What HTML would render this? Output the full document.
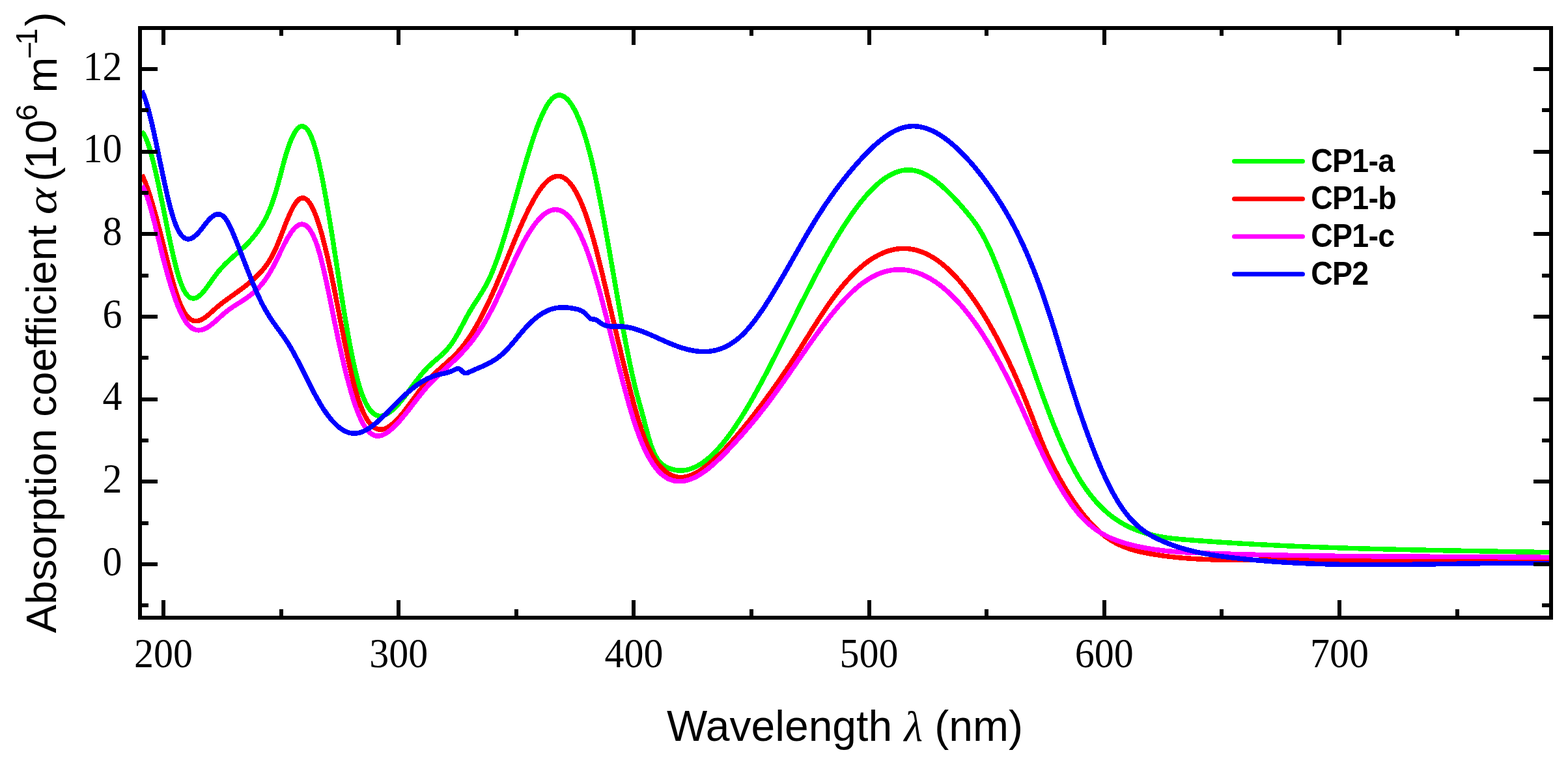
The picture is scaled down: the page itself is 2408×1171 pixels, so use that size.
<!DOCTYPE html>
<html><head><meta charset="utf-8"><title>Absorption coefficient</title>
<style>html,body{margin:0;padding:0;background:#fff;width:2408px;height:1171px;overflow:hidden}svg{display:block}</style>
</head><body>
<svg width="2408" height="1171" viewBox="0 0 2408 1171"><clipPath id="c"><rect x="218" y="46" width="2161" height="899"/></clipPath>
<g clip-path="url(#c)" fill="none" stroke-width="7.5" stroke-linejoin="round" stroke-linecap="butt" shape-rendering="crispEdges">
<path stroke="#00ff00" d="M217.8,202.0 L219.3,203.7 220.6,205.5 221.8,207.6 222.8,209.5 223.8,211.6 224.8,214.0 225.6,215.8 226.3,217.8 227.1,219.9 227.8,222.0 228.6,224.3 229.3,226.6 230.1,229.1 230.8,231.6 231.6,234.2 232.3,236.9 233.1,239.7 233.8,242.5 234.6,245.4 235.1,247.4 235.6,249.4 236.1,251.4 236.6,253.5 237.1,255.5 237.6,257.7 238.1,259.8 238.6,261.9 239.1,264.1 239.6,266.3 240.1,268.6 240.6,270.8 241.1,273.1 241.6,275.4 242.1,277.7 242.6,280.0 243.1,282.3 243.6,284.7 244.1,287.0 244.6,289.4 245.1,291.8 245.6,294.2 246.1,296.6 246.6,299.1 247.1,301.5 247.6,304.0 248.1,306.4 248.6,308.9 249.1,311.3 249.6,313.8 250.1,316.3 250.6,318.8 251.1,321.2 251.6,323.7 252.1,326.2 252.6,328.7 253.1,331.2 253.6,333.7 254.1,336.1 254.6,338.6 255.1,341.1 255.6,343.5 256.1,346.0 256.6,348.5 257.1,350.9 257.6,353.3 258.1,355.8 258.6,358.2 259.1,360.6 259.6,363.0 260.1,365.4 260.6,367.7 261.1,370.1 261.6,372.4 262.1,374.7 262.6,377.0 263.1,379.3 263.6,381.6 264.1,383.9 264.6,386.1 265.1,388.3 265.6,390.5 266.1,392.6 266.6,394.8 267.1,396.9 267.6,399.0 268.1,401.0 268.6,403.0 269.1,405.1 269.6,407.0 270.1,409.0 270.8,411.8 271.6,414.6 272.3,417.3 273.1,420.0 273.8,422.5 274.6,425.0 275.3,427.4 276.1,429.6 276.8,431.8 277.6,433.9 278.3,436.0 279.1,437.9 280.1,440.2 281.1,442.5 282.1,444.5 283.1,446.4 284.3,448.5 285.6,450.4 286.8,452.1 288.3,453.8 289.8,455.2 291.6,456.5 293.6,457.4 295.6,457.9 297.6,458.0 299.6,457.6 301.6,456.9 303.6,455.8 305.3,454.6 307.1,453.2 308.6,451.8 310.1,450.3 311.6,448.6 313.1,446.9 314.6,445.0 315.8,443.5 317.1,441.8 318.3,440.1 319.6,438.4 320.8,436.7 322.1,434.9 323.3,433.1 324.6,431.4 325.8,429.6 327.1,427.8 328.3,426.1 329.6,424.4 330.8,422.7 332.1,421.1 333.3,419.5 334.8,417.6 336.3,415.8 337.8,414.0 339.3,412.3 340.8,410.7 342.3,409.1 343.8,407.5 345.3,406.0 346.8,404.5 348.3,403.0 349.8,401.6 351.3,400.2 352.8,398.8 354.3,397.4 355.8,396.0 357.3,394.7 358.8,393.4 360.3,392.0 362.1,390.5 363.8,389.0 365.3,387.6 366.8,386.3 368.3,385.0 369.8,383.6 371.3,382.3 372.8,380.9 374.3,379.5 375.8,378.0 377.3,376.6 378.8,375.1 380.3,373.6 381.8,372.0 383.3,370.4 384.8,368.8 386.3,367.1 387.8,365.3 389.3,363.5 390.8,361.7 392.1,360.1 393.3,358.5 394.6,356.8 395.8,355.1 397.1,353.3 398.3,351.5 399.6,349.7 400.8,347.7 402.1,345.7 403.3,343.6 404.6,341.5 405.6,339.7 406.6,337.8 407.6,335.9 408.6,334.0 409.6,331.9 410.6,329.8 411.6,327.6 412.6,325.4 413.6,323.0 414.6,320.6 415.3,318.7 416.1,316.8 416.8,314.8 417.6,312.8 418.3,310.7 419.1,308.6 419.8,306.4 420.6,304.2 421.3,301.9 422.1,299.5 422.8,297.1 423.6,294.6 424.3,292.0 425.1,289.4 425.8,286.7 426.6,284.0 427.3,281.3 428.1,278.5 428.8,275.6 429.6,272.8 430.3,269.9 431.1,267.0 431.8,264.1 432.6,261.3 433.3,258.4 434.1,255.6 434.8,252.8 435.6,250.0 436.3,247.2 437.1,244.5 437.8,241.9 438.6,239.3 439.3,236.8 440.1,234.3 440.8,231.9 441.6,229.6 442.3,227.3 443.1,225.1 443.8,223.0 444.6,221.0 445.3,219.0 446.1,217.0 447.1,214.6 448.1,212.3 449.1,210.1 450.1,208.0 451.1,206.1 452.1,204.3 453.3,202.2 454.6,200.3 455.8,198.7 457.3,197.0 458.8,195.7 460.6,194.6 462.6,193.8 464.6,193.7 466.6,194.2 468.3,195.2 470.1,196.6 471.6,198.3 472.8,200.0 474.1,201.9 475.1,203.7 476.1,205.6 477.1,207.7 478.1,210.0 479.1,212.4 479.8,214.4 480.6,216.5 481.3,218.7 482.1,220.9 482.8,223.3 483.6,225.8 484.3,228.4 485.1,231.1 485.8,233.9 486.6,236.8 487.1,238.7 487.6,240.7 488.1,242.8 488.6,244.9 489.1,247.0 489.6,249.1 490.1,251.3 490.6,253.6 491.1,255.9 491.6,258.2 492.1,260.5 492.6,262.9 493.1,265.3 493.6,267.7 494.1,270.2 494.6,272.7 495.1,275.2 495.6,277.8 496.1,280.3 496.6,283.0 497.1,285.6 497.6,288.3 498.1,291.0 498.6,293.7 499.1,296.4 499.6,299.2 500.1,302.0 500.6,304.8 501.1,307.6 501.6,310.5 502.1,313.4 502.6,316.3 503.1,319.2 503.6,322.1 504.1,325.1 504.6,328.1 505.1,331.1 505.6,334.1 506.1,337.1 506.6,340.1 507.1,343.2 507.6,346.2 508.1,349.3 508.6,352.4 509.1,355.5 509.6,358.6 510.1,361.7 510.6,364.9 511.1,368.0 511.6,371.2 512.0,374.3 512.5,377.5 513.0,380.6 513.5,383.8 514.0,387.0 514.5,390.2 515.0,393.4 515.5,396.6 516.0,399.8 516.5,403.0 517.0,406.2 517.5,409.3 518.0,412.5 518.5,415.7 519.0,418.9 519.5,422.1 520.0,425.3 520.5,428.5 521.0,431.7 521.5,434.9 522.0,438.0 522.5,441.2 523.0,444.3 523.5,447.5 524.0,450.6 524.5,453.8 525.0,456.9 525.5,460.0 526.0,463.1 526.5,466.2 527.0,469.3 527.5,472.3 528.0,475.4 528.5,478.4 529.0,481.4 529.5,484.4 530.0,487.4 530.5,490.4 531.0,493.4 531.5,496.3 532.0,499.2 532.5,502.1 533.0,505.0 533.5,507.9 534.0,510.7 534.5,513.5 535.0,516.3 535.5,519.1 536.0,521.8 536.5,524.5 537.0,527.2 537.5,529.9 538.0,532.5 538.5,535.1 539.0,537.7 539.5,540.3 540.0,542.8 540.5,545.3 541.0,547.8 541.5,550.2 542.0,552.6 542.5,555.0 543.0,557.3 543.5,559.6 544.0,561.9 544.5,564.1 545.0,566.3 545.5,568.5 546.0,570.6 546.5,572.7 547.0,574.7 547.5,576.7 548.0,578.7 548.8,581.6 549.5,584.4 550.3,587.1 551.0,589.7 551.8,592.2 552.5,594.7 553.3,597.1 554.0,599.3 554.8,601.6 555.5,603.7 556.3,605.7 557.0,607.7 557.8,609.6 558.8,612.0 559.8,614.3 560.8,616.5 561.8,618.6 562.8,620.5 563.8,622.3 565.0,624.4 566.3,626.4 567.5,628.1 568.8,629.7 570.3,631.5 571.8,633.0 573.5,634.5 575.3,635.8 577.0,636.7 579.0,637.6 581.0,638.1 583.0,638.4 585.0,638.4 587.0,638.1 589.0,637.6 591.0,636.9 593.0,636.0 595.0,634.9 596.8,633.8 598.5,632.6 600.3,631.3 602.0,629.8 603.8,628.3 605.3,626.9 606.8,625.4 608.3,623.9 609.8,622.3 611.3,620.7 612.8,619.0 614.3,617.3 615.8,615.5 617.3,613.7 618.8,611.8 620.0,610.2 621.3,608.6 622.5,607.0 623.8,605.4 625.0,603.7 626.3,602.1 627.5,600.4 628.8,598.7 630.0,597.1 631.3,595.4 632.5,593.7 633.8,592.0 635.0,590.3 636.3,588.7 637.5,587.0 638.8,585.3 640.0,583.7 641.3,582.1 642.5,580.4 643.8,578.8 645.0,577.3 646.5,575.4 648.0,573.6 649.5,571.8 651.0,570.1 652.5,568.4 654.0,566.8 655.5,565.2 657.0,563.7 658.5,562.2 660.0,560.8 661.5,559.4 663.0,558.0 664.5,556.7 666.3,555.2 668.0,553.7 669.8,552.2 671.5,550.7 673.3,549.1 675.0,547.6 676.5,546.3 678.0,544.9 679.5,543.5 681.0,542.0 682.5,540.5 684.0,539.0 685.5,537.4 687.0,535.7 688.5,533.9 690.0,532.1 691.3,530.5 692.5,528.8 693.8,527.1 695.0,525.3 696.3,523.4 697.5,521.4 698.8,519.4 700.0,517.3 701.3,515.1 702.3,513.4 703.3,511.6 704.3,509.8 705.3,507.9 706.3,506.0 707.3,504.2 708.3,502.3 709.3,500.4 710.3,498.5 711.3,496.6 712.3,494.6 713.3,492.8 714.3,490.9 715.3,489.0 716.3,487.1 717.3,485.3 718.3,483.5 719.3,481.7 720.3,480.0 721.5,477.8 722.8,475.8 724.0,473.7 725.3,471.7 726.5,469.7 727.8,467.8 729.0,465.8 730.3,463.9 731.5,462.0 732.8,460.0 734.0,458.1 735.3,456.2 736.5,454.2 737.8,452.2 739.0,450.2 740.3,448.2 741.5,446.1 742.8,444.0 743.8,442.3 744.8,440.5 745.8,438.7 746.8,436.8 747.8,434.9 748.8,433.0 749.8,431.0 750.8,428.9 751.8,426.8 752.8,424.7 753.8,422.4 754.8,420.1 755.8,417.8 756.8,415.4 757.5,413.5 758.3,411.6 759.0,409.7 759.8,407.7 760.5,405.8 761.3,403.7 762.0,401.7 762.8,399.6 763.5,397.5 764.3,395.4 765.0,393.2 765.8,391.1 766.5,388.8 767.3,386.6 768.0,384.4 768.8,382.1 769.5,379.8 770.3,377.4 771.0,375.1 771.8,372.7 772.5,370.3 773.3,367.9 774.0,365.5 774.8,363.0 775.5,360.6 776.3,358.1 777.0,355.6 777.8,353.1 778.5,350.5 779.3,348.0 780.0,345.4 780.8,342.9 781.5,340.3 782.3,337.7 783.0,335.1 783.8,332.5 784.5,329.8 785.3,327.2 786.0,324.6 786.8,321.9 787.5,319.3 788.3,316.6 789.0,313.9 789.8,311.3 790.5,308.6 791.3,305.9 792.0,303.3 792.8,300.6 793.5,297.9 794.3,295.2 795.0,292.5 795.8,289.9 796.5,287.2 797.3,284.5 798.0,281.9 798.8,279.2 799.5,276.6 800.3,273.9 801.0,271.3 801.8,268.6 802.5,266.0 803.3,263.4 804.0,260.8 804.8,258.2 805.5,255.6 806.3,253.0 807.0,250.5 807.8,247.9 808.5,245.4 809.3,242.9 810.0,240.4 810.8,237.9 811.5,235.4 812.3,233.0 813.0,230.6 813.8,228.2 814.5,225.8 815.3,223.4 816.0,221.1 816.8,218.7 817.5,216.4 818.3,214.1 819.0,211.9 819.8,209.7 820.5,207.5 821.3,205.3 822.0,203.1 822.8,201.0 823.5,198.9 824.3,196.9 825.0,194.8 825.8,192.9 826.5,190.9 827.3,189.0 828.0,187.0 828.8,185.2 829.8,182.7 830.8,180.4 831.8,178.1 832.8,175.8 833.8,173.7 834.8,171.6 835.8,169.5 836.8,167.6 837.8,165.7 838.8,163.9 840.0,161.8 841.3,159.8 842.5,157.9 843.8,156.2 845.0,154.6 846.5,152.8 848.0,151.3 849.5,149.9 851.3,148.6 853.0,147.6 855.0,146.7 857.0,146.2 859.0,146.1 861.0,146.2 863.0,146.8 865.0,147.6 866.8,148.6 868.5,149.9 870.3,151.4 871.8,152.9 873.3,154.6 874.8,156.4 876.0,158.1 877.3,159.9 878.5,161.8 879.8,163.9 881.0,166.1 882.0,167.9 883.0,169.8 884.0,171.8 885.0,173.8 886.0,175.9 887.0,178.1 888.0,180.4 889.0,182.8 890.0,185.2 890.8,187.1 891.5,189.0 892.3,191.0 893.0,193.0 893.8,195.1 894.5,197.2 895.3,199.4 896.0,201.6 896.8,203.8 897.5,206.1 898.3,208.5 899.0,210.9 899.8,213.3 900.5,215.9 901.3,218.4 902.0,221.0 902.8,223.7 903.5,226.4 904.3,229.2 905.0,232.0 905.8,234.8 906.3,236.8 906.8,238.7 907.3,240.7 907.8,242.8 908.3,244.8 908.8,246.9 909.3,248.9 909.8,251.1 910.3,253.2 910.8,255.4 911.3,257.5 911.8,259.7 912.3,262.0 912.8,264.2 913.3,266.5 913.8,268.8 914.3,271.1 914.8,273.4 915.3,275.8 915.8,278.1 916.3,280.5 916.8,282.9 917.3,285.4 917.8,287.8 918.3,290.3 918.8,292.8 919.3,295.3 919.8,297.8 920.3,300.3 920.8,302.9 921.3,305.4 921.8,308.0 922.3,310.6 922.8,313.2 923.3,315.8 923.8,318.5 924.3,321.1 924.8,323.8 925.3,326.5 925.8,329.1 926.3,331.8 926.8,334.5 927.3,337.3 927.8,340.0 928.3,342.7 928.8,345.5 929.3,348.3 929.8,351.0 930.3,353.8 930.8,356.6 931.3,359.4 931.8,362.2 932.3,365.0 932.8,367.8 933.3,370.7 933.8,373.5 934.3,376.3 934.8,379.2 935.3,382.0 935.8,384.9 936.3,387.7 936.8,390.6 937.3,393.4 937.8,396.3 938.3,399.2 938.8,402.1 939.3,404.9 939.8,407.8 940.3,410.7 940.8,413.6 941.3,416.4 941.8,419.3 942.3,422.2 942.8,425.1 943.3,428.0 943.8,430.8 944.3,433.7 944.8,436.6 945.3,439.5 945.8,442.3 946.3,445.2 946.8,448.1 947.3,450.9 947.8,453.8 948.3,456.6 948.8,459.5 949.3,462.3 949.8,465.2 950.3,468.0 950.8,470.8 951.3,473.6 951.8,476.4 952.3,479.2 952.8,482.0 953.3,484.8 953.8,487.6 954.3,490.3 954.8,493.1 955.3,495.8 955.8,498.6 956.3,501.3 956.8,504.0 957.3,506.7 957.8,509.4 958.3,512.1 958.8,514.8 959.3,517.4 959.8,520.1 960.3,522.7 960.8,525.3 961.3,527.9 961.8,530.5 962.3,533.1 962.8,535.6 963.3,538.2 963.8,540.7 964.3,543.2 964.8,545.7 965.3,548.2 965.8,550.6 966.3,553.1 966.8,555.5 967.3,557.9 967.8,560.3 968.3,562.6 968.8,565.0 969.3,567.3 969.8,569.6 970.3,571.9 970.8,574.2 971.3,576.4 971.8,578.6 972.3,580.8 972.8,583.0 973.3,585.1 973.8,587.3 974.3,589.4 974.8,591.4 975.3,593.5 975.8,595.5 976.3,597.5 976.8,599.5 977.3,601.4 978.0,604.3 978.8,607.2 979.5,610.0 980.3,612.8 981.0,615.5 981.8,618.2 982.5,621.0 983.3,623.7 984.0,626.3 984.8,629.0 985.5,631.7 986.3,634.5 987.0,637.2 987.8,639.9 988.5,642.7 989.3,645.5 990.0,648.4 990.8,651.2 991.5,654.1 992.3,657.0 993.0,659.8 993.8,662.7 994.5,665.5 995.3,668.3 996.0,671.0 996.8,673.6 997.5,676.2 998.3,678.6 999.0,681.0 999.8,683.2 1000.5,685.4 1001.3,687.5 1002.0,689.4 1002.8,691.3 1003.8,693.6 1004.8,695.8 1005.8,697.9 1006.8,699.8 1007.8,701.6 1009.0,703.6 1010.3,705.5 1011.5,707.1 1013.0,708.9 1014.5,710.5 1016.0,711.9 1017.8,713.3 1019.5,714.6 1021.3,715.6 1023.3,716.7 1025.3,717.7 1027.3,718.5 1029.3,719.3 1031.3,720.0 1033.3,720.6 1035.3,721.0 1037.3,721.4 1039.3,721.7 1041.3,722.0 1043.3,722.1 1045.3,722.1 1047.3,722.1 1049.3,721.9 1051.3,721.7 1053.3,721.4 1055.3,721.0 1057.3,720.5 1059.3,719.9 1061.3,719.3 1063.3,718.6 1065.3,717.8 1067.3,716.9 1069.3,715.9 1071.3,714.9 1073.0,713.9 1074.8,712.8 1076.5,711.7 1078.3,710.6 1080.0,709.4 1081.8,708.1 1083.5,706.8 1085.3,705.4 1087.0,704.0 1088.8,702.5 1090.5,701.0 1092.0,699.6 1093.5,698.2 1095.0,696.8 1096.5,695.3 1098.0,693.8 1099.5,692.3 1101.0,690.7 1102.5,689.1 1104.0,687.4 1105.5,685.7 1107.0,684.0 1108.5,682.3 1110.0,680.5 1111.5,678.6 1113.0,676.8 1114.3,675.2 1115.5,673.6 1116.8,672.0 1118.0,670.3 1119.3,668.7 1120.5,667.0 1121.8,665.3 1123.0,663.5 1124.3,661.8 1125.5,660.0 1126.8,658.2 1128.0,656.4 1129.3,654.6 1130.5,652.7 1131.8,650.8 1133.0,648.9 1134.3,647.0 1135.5,645.1 1136.8,643.1 1138.0,641.2 1139.3,639.2 1140.5,637.2 1141.8,635.1 1143.0,633.1 1144.3,631.0 1145.5,629.0 1146.8,626.9 1148.0,624.8 1149.3,622.7 1150.5,620.5 1151.8,618.4 1153.0,616.2 1154.0,614.5 1155.0,612.7 1156.0,611.0 1157.0,609.2 1158.0,607.4 1159.0,605.6 1160.0,603.8 1161.0,602.0 1162.0,600.2 1163.0,598.4 1164.0,596.6 1165.0,594.8 1166.0,592.9 1167.0,591.1 1168.0,589.2 1169.0,587.4 1170.0,585.5 1171.0,583.6 1172.0,581.7 1173.0,579.9 1174.0,578.0 1175.0,576.1 1176.0,574.2 1177.0,572.3 1178.0,570.3 1179.0,568.4 1180.0,566.5 1181.0,564.6 1182.0,562.6 1183.0,560.7 1184.0,558.7 1185.0,556.8 1186.0,554.8 1187.0,552.9 1188.0,550.9 1189.0,548.9 1190.0,547.0 1191.0,545.0 1192.0,543.0 1193.0,541.0 1194.0,539.1 1195.0,537.1 1196.0,535.1 1197.0,533.1 1198.0,531.1 1199.0,529.1 1200.0,527.1 1201.0,525.1 1202.0,523.1 1203.0,521.1 1204.0,519.1 1205.0,517.1 1206.0,515.1 1207.0,513.1 1208.0,511.0 1209.0,509.0 1210.0,507.0 1211.0,505.0 1212.0,503.0 1213.0,501.0 1214.0,499.0 1215.0,497.0 1216.0,494.9 1217.0,492.9 1218.0,490.9 1219.0,488.9 1220.0,486.9 1221.0,484.9 1222.0,482.9 1223.0,480.9 1224.0,478.8 1225.0,476.8 1226.0,474.8 1227.0,472.8 1228.0,470.8 1229.0,468.8 1230.0,466.8 1231.0,464.8 1232.0,462.9 1233.0,460.9 1234.0,458.9 1235.0,456.9 1236.0,454.9 1237.0,452.9 1238.0,451.0 1239.0,449.0 1240.0,447.0 1241.0,445.1 1242.0,443.1 1243.0,441.2 1244.0,439.2 1245.0,437.3 1246.0,435.3 1247.0,433.4 1248.0,431.5 1249.0,429.5 1250.0,427.6 1251.0,425.7 1252.0,423.8 1253.0,421.9 1254.0,420.0 1255.0,418.1 1256.0,416.2 1257.0,414.3 1258.0,412.5 1259.0,410.6 1260.0,408.7 1261.0,406.9 1262.0,405.0 1263.0,403.2 1264.0,401.4 1265.0,399.5 1266.0,397.7 1267.0,395.9 1268.0,394.1 1269.0,392.3 1270.0,390.5 1271.0,388.7 1272.0,386.9 1273.0,385.1 1274.0,383.4 1275.0,381.6 1276.0,379.9 1277.0,378.1 1278.3,376.0 1279.5,373.8 1280.8,371.7 1282.0,369.6 1283.3,367.5 1284.5,365.4 1285.8,363.3 1287.0,361.2 1288.3,359.2 1289.5,357.1 1290.8,355.1 1292.0,353.1 1293.3,351.1 1294.5,349.1 1295.8,347.2 1297.0,345.2 1298.3,343.3 1299.5,341.4 1300.8,339.5 1302.0,337.6 1303.3,335.8 1304.5,333.9 1305.8,332.1 1307.0,330.3 1308.3,328.5 1309.5,326.7 1310.8,325.0 1312.0,323.2 1313.3,321.5 1314.5,319.8 1315.8,318.2 1317.0,316.5 1318.3,314.9 1319.5,313.2 1320.8,311.6 1322.0,310.1 1323.5,308.2 1325.0,306.4 1326.5,304.6 1328.0,302.8 1329.5,301.0 1331.0,299.3 1332.5,297.7 1334.0,296.0 1335.5,294.4 1337.0,292.8 1338.5,291.3 1340.0,289.7 1341.5,288.3 1343.0,286.8 1344.5,285.4 1346.0,284.0 1347.5,282.7 1349.3,281.2 1351.0,279.7 1352.8,278.3 1354.5,276.9 1356.3,275.6 1358.0,274.3 1359.8,273.1 1361.5,271.9 1363.3,270.8 1365.0,269.8 1366.8,268.8 1368.8,267.7 1370.8,266.7 1372.8,265.8 1374.8,264.9 1376.8,264.2 1378.8,263.5 1380.8,262.9 1382.8,262.3 1384.8,261.8 1386.8,261.5 1388.8,261.2 1390.8,260.9 1392.8,260.8 1394.8,260.8 1396.8,260.8 1398.8,260.9 1400.8,261.1 1402.8,261.4 1404.8,261.8 1406.8,262.2 1408.8,262.8 1410.8,263.4 1412.8,264.0 1414.8,264.8 1416.8,265.6 1418.8,266.5 1420.8,267.5 1422.8,268.6 1424.8,269.7 1426.5,270.7 1428.3,271.8 1430.0,272.9 1431.8,274.1 1433.5,275.3 1435.3,276.5 1437.0,277.8 1438.8,279.2 1440.5,280.6 1442.3,282.0 1444.0,283.4 1445.8,284.9 1447.5,286.5 1449.0,287.8 1450.5,289.2 1452.0,290.6 1453.5,292.0 1455.0,293.5 1456.5,294.9 1458.0,296.4 1459.5,297.9 1461.0,299.5 1462.5,301.0 1464.0,302.6 1465.5,304.2 1467.0,305.8 1468.5,307.4 1470.0,309.0 1471.5,310.7 1473.0,312.4 1474.5,314.1 1476.0,315.8 1477.5,317.5 1479.0,319.2 1480.5,321.0 1482.0,322.7 1483.5,324.5 1485.0,326.3 1486.5,328.1 1488.0,329.9 1489.5,331.8 1490.8,333.3 1492.0,334.9 1493.3,336.6 1494.5,338.2 1495.8,339.9 1497.0,341.7 1498.3,343.4 1499.5,345.2 1500.8,347.1 1502.0,349.0 1503.3,350.9 1504.5,352.9 1505.8,355.0 1507.0,357.1 1508.3,359.3 1509.3,361.1 1510.3,362.9 1511.3,364.7 1512.3,366.6 1513.3,368.6 1514.3,370.6 1515.3,372.6 1516.3,374.7 1517.3,376.8 1518.3,378.9 1519.3,381.1 1520.3,383.3 1521.3,385.5 1522.3,387.8 1523.3,390.1 1524.3,392.4 1525.3,394.8 1526.3,397.2 1527.3,399.6 1528.3,402.0 1529.3,404.5 1530.0,406.4 1530.8,408.3 1531.5,410.1 1532.3,412.0 1533.0,414.0 1533.8,415.9 1534.5,417.8 1535.3,419.8 1536.0,421.7 1536.8,423.7 1537.5,425.7 1538.3,427.6 1539.0,429.6 1539.8,431.6 1540.5,433.6 1541.3,435.7 1542.0,437.7 1542.8,439.7 1543.5,441.8 1544.3,443.8 1545.0,445.9 1545.8,447.9 1546.5,450.0 1547.3,452.1 1548.0,454.2 1548.8,456.2 1549.5,458.3 1550.3,460.4 1551.0,462.6 1551.8,464.7 1552.5,466.8 1553.3,468.9 1554.0,471.0 1554.8,473.2 1555.5,475.3 1556.3,477.5 1557.0,479.6 1557.8,481.8 1558.5,483.9 1559.3,486.1 1560.0,488.2 1560.8,490.4 1561.5,492.6 1562.3,494.8 1563.0,496.9 1563.8,499.1 1564.5,501.3 1565.3,503.5 1566.0,505.7 1566.8,507.8 1567.5,510.0 1568.3,512.2 1569.0,514.4 1569.8,516.6 1570.5,518.8 1571.3,521.0 1572.0,523.2 1572.8,525.4 1573.5,527.6 1574.3,529.8 1575.0,532.0 1575.8,534.2 1576.5,536.4 1577.3,538.6 1578.0,540.8 1578.8,542.9 1579.5,545.1 1580.3,547.3 1581.0,549.5 1581.8,551.7 1582.5,553.9 1583.3,556.1 1584.0,558.2 1584.8,560.4 1585.5,562.6 1586.3,564.8 1587.0,566.9 1587.8,569.1 1588.5,571.2 1589.3,573.4 1590.0,575.5 1590.8,577.7 1591.5,579.8 1592.3,582.0 1593.0,584.1 1593.8,586.2 1594.5,588.4 1595.3,590.5 1596.0,592.6 1596.8,594.7 1597.5,596.8 1598.3,598.9 1599.0,601.0 1599.8,603.1 1600.5,605.1 1601.3,607.2 1602.0,609.3 1602.8,611.3 1603.5,613.4 1604.3,615.4 1605.0,617.4 1605.8,619.5 1606.5,621.5 1607.3,623.5 1608.0,625.5 1608.8,627.5 1609.5,629.5 1610.3,631.5 1611.0,633.5 1611.8,635.4 1612.5,637.4 1613.3,639.3 1614.0,641.3 1614.8,643.2 1615.5,645.1 1616.3,647.0 1617.0,649.0 1617.8,650.8 1618.5,652.7 1619.3,654.6 1620.0,656.5 1620.8,658.3 1621.8,660.8 1622.8,663.2 1623.8,665.7 1624.8,668.1 1625.8,670.4 1626.8,672.8 1627.8,675.2 1628.8,677.5 1629.8,679.8 1630.8,682.1 1631.8,684.3 1632.8,686.6 1633.8,688.8 1634.8,691.0 1635.8,693.2 1636.8,695.3 1637.8,697.5 1638.8,699.6 1639.8,701.7 1640.8,703.7 1641.8,705.8 1642.8,707.8 1643.8,709.8 1644.8,711.7 1645.8,713.7 1646.8,715.6 1647.8,717.5 1648.8,719.3 1649.8,721.2 1650.8,723.0 1651.8,724.8 1652.8,726.5 1653.8,728.3 1655.0,730.4 1656.3,732.5 1657.5,734.6 1658.8,736.7 1660.0,738.7 1661.3,740.6 1662.5,742.6 1663.8,744.5 1665.0,746.3 1666.3,748.2 1667.5,750.0 1668.8,751.7 1670.0,753.5 1671.3,755.2 1672.5,756.9 1673.8,758.5 1675.0,760.1 1676.3,761.7 1677.8,763.5 1679.3,765.4 1680.8,767.1 1682.3,768.9 1683.8,770.6 1685.3,772.2 1686.8,773.8 1688.3,775.4 1689.8,777.0 1691.3,778.5 1692.8,779.9 1694.3,781.4 1695.8,782.8 1697.3,784.1 1698.8,785.4 1700.5,787.0 1702.3,788.4 1704.0,789.8 1705.8,791.2 1707.5,792.6 1709.3,793.9 1711.0,795.1 1712.8,796.4 1714.5,797.5 1716.3,798.7 1718.0,799.8 1719.8,800.9 1721.5,802.0 1723.3,803.0 1725.0,804.0 1727.0,805.1 1729.0,806.1 1731.0,807.2 1733.0,808.2 1735.0,809.1 1737.0,810.1 1739.0,810.9 1741.0,811.8 1743.0,812.6 1745.0,813.4 1747.0,814.2 1749.0,815.0 1751.0,815.7 1753.0,816.4 1755.0,817.0 1757.0,817.7 1759.0,818.3 1761.0,818.8 1763.0,819.4 1765.0,819.9 1767.0,820.5 1769.0,820.9 1771.0,821.4 1773.0,821.9 1775.0,822.3 1777.0,822.7 1779.0,823.1 1781.0,823.5 1783.0,823.8 1785.0,824.2 1787.0,824.5 1789.0,824.8 1791.0,825.1 1793.0,825.4 1795.0,825.6 1797.0,825.9 1799.0,826.1 1801.0,826.4 1803.0,826.6 1805.0,826.8 1807.0,827.0 1809.0,827.2 1811.0,827.4 1813.0,827.6 1815.0,827.8 1817.0,827.9 1819.0,828.1 1821.0,828.3 1823.0,828.4 1825.0,828.6 1827.0,828.7 1829.0,828.9 1831.0,829.0 1833.0,829.2 1835.0,829.3 1837.0,829.5 1839.0,829.6 1841.0,829.8 1843.0,829.9 1845.0,830.1 1847.0,830.2 1849.0,830.4 1851.0,830.5 1853.0,830.7 1855.0,830.8 1857.0,830.9 1859.0,831.1 1861.0,831.2 1863.0,831.4 1865.0,831.5 1867.0,831.6 1869.0,831.8 1871.0,831.9 1873.0,832.0 1875.0,832.2 1877.0,832.3 1879.0,832.4 1881.0,832.6 1883.0,832.7 1885.0,832.8 1887.0,832.9 1889.0,833.1 1891.0,833.2 1893.0,833.3 1895.0,833.4 1897.0,833.6 1899.0,833.7 1901.0,833.8 1903.0,833.9 1905.0,834.0 1907.0,834.2 1909.0,834.3 1911.0,834.4 1913.0,834.5 1915.0,834.6 1917.0,834.7 1919.0,834.8 1921.0,835.0 1923.0,835.1 1925.0,835.2 1927.0,835.3 1929.0,835.4 1931.0,835.5 1933.0,835.6 1935.0,835.7 1937.0,835.8 1939.0,835.9 1941.0,836.0 1943.0,836.1 1945.0,836.2 1947.0,836.3 1949.0,836.4 1951.0,836.5 1953.0,836.6 1955.0,836.7 1957.0,836.8 1959.0,836.9 1961.0,837.0 1963.0,837.1 1965.0,837.2 1967.0,837.3 1969.0,837.4 1971.0,837.5 1973.0,837.6 1975.0,837.7 1977.0,837.8 1979.0,837.8 1981.0,837.9 1983.0,838.0 1985.0,838.1 1987.0,838.2 1989.0,838.3 1991.0,838.4 1993.0,838.5 1995.0,838.5 1997.0,838.6 1999.0,838.7 2001.0,838.8 2003.0,838.9 2005.0,838.9 2007.0,839.0 2009.0,839.1 2011.0,839.2 2013.0,839.3 2015.0,839.3 2017.0,839.4 2019.0,839.5 2021.0,839.6 2023.0,839.6 2025.0,839.7 2027.0,839.8 2029.0,839.9 2031.0,839.9 2033.0,840.0 2035.0,840.1 2037.0,840.2 2039.0,840.2 2041.0,840.3 2043.0,840.4 2045.0,840.4 2047.0,840.5 2049.1,840.6 2051.1,840.6 2053.1,840.7 2055.1,840.8 2057.1,840.8 2059.1,840.9 2061.1,841.0 2063.1,841.0 2065.1,841.1 2067.1,841.2 2069.1,841.2 2071.1,841.3 2073.1,841.3 2075.1,841.4 2077.1,841.5 2079.1,841.5 2081.1,841.6 2083.1,841.6 2085.1,841.7 2087.1,841.8 2089.1,841.8 2091.1,841.9 2093.1,841.9 2095.1,842.0 2097.1,842.0 2099.1,842.1 2101.1,842.1 2103.1,842.2 2105.1,842.3 2107.1,842.3 2109.1,842.4 2111.1,842.4 2113.1,842.5 2115.1,842.5 2117.1,842.6 2119.1,842.6 2121.1,842.7 2123.1,842.7 2125.1,842.8 2127.1,842.8 2129.1,842.9 2131.1,842.9 2133.1,843.0 2135.1,843.0 2137.1,843.1 2139.1,843.1 2141.1,843.2 2143.1,843.2 2145.1,843.3 2147.1,843.3 2149.1,843.4 2151.1,843.4 2153.1,843.4 2155.1,843.5 2157.1,843.5 2159.1,843.6 2161.1,843.6 2163.1,843.7 2165.1,843.7 2167.1,843.8 2169.1,843.8 2171.1,843.8 2173.1,843.9 2175.1,843.9 2177.1,844.0 2179.1,844.0 2181.1,844.1 2183.1,844.1 2185.1,844.1 2187.1,844.2 2189.1,844.2 2191.1,844.3 2193.1,844.3 2195.1,844.3 2197.1,844.4 2199.1,844.4 2201.1,844.5 2203.1,844.5 2205.1,844.5 2207.1,844.6 2209.1,844.6 2211.1,844.7 2213.1,844.7 2215.1,844.7 2217.1,844.8 2219.1,844.8 2221.1,844.8 2223.1,844.9 2225.1,844.9 2227.1,845.0 2229.1,845.0 2231.1,845.0 2233.1,845.1 2235.1,845.1 2237.1,845.1 2239.1,845.2 2241.1,845.2 2243.1,845.2 2245.1,845.3 2247.1,845.3 2249.1,845.4 2251.1,845.4 2253.1,845.4 2255.1,845.5 2257.1,845.5 2259.1,845.5 2261.1,845.6 2263.1,845.6 2265.1,845.6 2267.1,845.7 2269.1,845.7 2271.1,845.7 2273.1,845.8 2275.1,845.8 2277.1,845.8 2279.1,845.9 2281.1,845.9 2283.1,846.0 2285.1,846.0 2287.1,846.0 2289.1,846.1 2291.1,846.1 2293.1,846.1 2295.1,846.2 2297.1,846.2 2299.1,846.2 2301.1,846.3 2303.1,846.3 2305.1,846.3 2307.1,846.4 2309.1,846.4 2311.1,846.4 2313.1,846.5 2315.1,846.5 2317.1,846.5 2319.1,846.6 2321.1,846.6 2323.1,846.7 2325.1,846.7 2327.1,846.7 2329.1,846.8 2331.1,846.8 2333.1,846.8 2335.1,846.9 2337.1,846.9 2339.1,846.9 2341.1,847.0 2343.1,847.0 2345.1,847.1 2347.1,847.1 2349.1,847.1 2351.1,847.2 2353.1,847.2 2355.1,847.2 2357.1,847.3 2359.1,847.3 2361.1,847.4 2363.1,847.4 2365.1,847.4 2367.1,847.5 2369.1,847.5 2371.1,847.5 2373.1,847.6 2375.1,847.6 2377.1,847.7 2379.1,847.7 2380.0,847.7"/>
<path stroke="#ff0000" d="M217.8,268.2 L218.8,270.2 219.8,272.4 220.8,274.6 221.8,276.9 222.8,279.3 223.6,281.2 224.3,283.2 225.1,285.2 225.8,287.2 226.6,289.3 227.3,291.5 228.1,293.6 228.8,295.9 229.6,298.2 230.3,300.5 231.1,302.9 231.8,305.3 232.6,307.7 233.3,310.2 234.1,312.8 234.8,315.3 235.6,317.9 236.3,320.5 237.1,323.2 237.8,325.9 238.6,328.6 239.3,331.4 240.1,334.1 240.8,337.0 241.6,339.8 242.3,342.6 243.1,345.5 243.8,348.4 244.6,351.3 245.1,353.2 245.6,355.2 246.1,357.1 246.6,359.1 247.1,361.1 247.6,363.1 248.1,365.0 248.6,367.0 249.1,369.0 249.6,371.0 250.1,373.0 250.6,375.0 251.1,377.0 251.6,379.0 252.1,381.0 252.6,383.0 253.1,385.0 253.6,387.0 254.1,389.0 254.6,391.0 255.1,393.0 255.6,394.9 256.1,396.9 256.6,398.9 257.1,400.9 257.6,402.8 258.1,404.8 258.6,406.7 259.3,409.6 260.1,412.5 260.8,415.3 261.6,418.1 262.3,420.9 263.1,423.7 263.8,426.4 264.6,429.1 265.3,431.8 266.1,434.4 266.8,437.0 267.6,439.6 268.3,442.1 269.1,444.5 269.8,446.9 270.6,449.3 271.3,451.6 272.1,453.8 272.8,456.0 273.6,458.1 274.3,460.2 275.1,462.2 275.8,464.2 276.6,466.0 277.6,468.4 278.6,470.7 279.6,472.8 280.6,474.8 281.6,476.7 282.6,478.5 283.8,480.5 285.1,482.4 286.3,484.1 287.8,485.9 289.3,487.5 290.8,488.8 292.6,490.1 294.3,491.2 296.3,492.0 298.3,492.5 300.3,492.7 302.3,492.7 304.3,492.3 306.3,491.8 308.3,491.0 310.3,490.0 312.1,489.0 313.8,487.9 315.6,486.7 317.3,485.3 319.1,483.9 320.8,482.5 322.6,481.0 324.3,479.4 325.8,478.1 327.3,476.7 328.8,475.4 330.3,474.1 332.1,472.5 333.8,471.0 335.6,469.6 337.3,468.2 339.1,466.8 340.8,465.4 342.6,464.0 344.3,462.7 346.1,461.4 347.8,460.1 349.6,458.8 351.3,457.5 353.1,456.3 354.8,455.0 356.6,453.8 358.3,452.5 360.1,451.3 361.8,450.0 363.6,448.8 365.3,447.5 367.1,446.2 368.8,445.0 370.6,443.7 372.3,442.4 374.1,441.1 375.8,439.7 377.6,438.4 379.3,437.0 381.1,435.6 382.8,434.1 384.6,432.6 386.3,431.1 388.1,429.6 389.6,428.3 391.1,426.9 392.6,425.5 394.1,424.0 395.6,422.6 397.1,421.1 398.6,419.5 400.1,417.9 401.6,416.3 403.1,414.6 404.6,412.8 406.1,410.9 407.3,409.3 408.6,407.6 409.8,405.9 411.1,404.1 412.3,402.2 413.6,400.2 414.8,398.2 416.1,396.1 417.1,394.3 418.1,392.5 419.1,390.6 420.1,388.6 421.1,386.6 422.1,384.5 423.1,382.4 424.1,380.2 425.1,377.9 426.1,375.5 427.1,373.1 428.1,370.6 428.8,368.8 429.6,366.9 430.3,365.0 431.1,363.1 431.8,361.1 432.6,359.2 433.3,357.2 434.1,355.3 434.8,353.4 435.6,351.4 436.3,349.5 437.1,347.5 437.8,345.6 438.6,343.7 439.3,341.8 440.1,339.9 441.1,337.5 442.1,335.1 443.1,332.7 444.1,330.4 445.1,328.1 446.1,325.9 447.1,323.8 448.1,321.8 449.1,319.8 450.1,317.9 451.1,316.1 452.3,314.1 453.6,312.2 454.8,310.4 456.3,308.6 457.8,307.1 459.6,305.6 461.3,304.6 463.3,303.9 465.3,303.8 467.3,304.2 469.3,305.1 471.1,306.4 472.6,307.8 474.1,309.5 475.3,311.1 476.6,313.0 477.8,315.1 478.8,316.9 479.8,318.8 480.8,320.9 481.8,323.1 482.8,325.4 483.8,327.8 484.6,329.7 485.3,331.7 486.1,333.7 486.8,335.8 487.6,337.9 488.3,340.2 489.1,342.4 489.8,344.8 490.6,347.2 491.3,349.6 492.1,352.1 492.8,354.7 493.6,357.3 494.3,360.0 495.1,362.7 495.8,365.5 496.6,368.4 497.3,371.3 497.8,373.2 498.3,375.2 498.8,377.2 499.3,379.2 499.8,381.2 500.3,383.3 500.8,385.4 501.3,387.5 501.8,389.6 502.3,391.8 502.8,393.9 503.3,396.1 503.8,398.3 504.3,400.6 504.8,402.8 505.3,405.1 505.8,407.3 506.3,409.6 506.8,411.9 507.3,414.3 507.8,416.6 508.3,419.0 508.8,421.4 509.3,423.8 509.8,426.2 510.3,428.6 510.8,431.1 511.3,433.5 511.8,436.0 512.3,438.5 512.8,441.0 513.3,443.5 513.8,446.0 514.3,448.5 514.8,451.0 515.3,453.6 515.8,456.1 516.3,458.7 516.8,461.2 517.3,463.8 517.8,466.4 518.3,468.9 518.8,471.5 519.3,474.1 519.8,476.7 520.3,479.3 520.8,481.8 521.3,484.4 521.8,487.0 522.3,489.6 522.8,492.2 523.3,494.8 523.8,497.3 524.3,499.9 524.8,502.5 525.3,505.0 525.8,507.6 526.3,510.1 526.8,512.7 527.3,515.2 527.8,517.8 528.3,520.3 528.8,522.8 529.3,525.3 529.8,527.8 530.3,530.3 530.8,532.7 531.3,535.2 531.8,537.6 532.3,540.0 532.8,542.5 533.3,544.8 533.8,547.2 534.3,549.6 534.8,551.9 535.3,554.3 535.8,556.6 536.3,558.9 536.8,561.1 537.3,563.4 537.8,565.6 538.3,567.8 538.8,570.0 539.3,572.2 539.8,574.3 540.3,576.4 540.8,578.5 541.3,580.6 541.8,582.6 542.3,584.6 542.8,586.6 543.3,588.6 544.0,591.5 544.8,594.3 545.5,597.0 546.3,599.7 547.0,602.3 547.8,604.8 548.5,607.3 549.3,609.7 550.0,612.0 550.8,614.3 551.5,616.5 552.3,618.6 553.0,620.7 553.8,622.7 554.5,624.7 555.3,626.5 556.3,629.0 557.3,631.3 558.3,633.5 559.3,635.6 560.3,637.6 561.3,639.5 562.3,641.3 563.5,643.4 564.8,645.4 566.0,647.2 567.3,648.9 568.8,650.7 570.3,652.3 571.8,653.8 573.5,655.3 575.3,656.5 577.0,657.5 579.0,658.3 581.0,658.9 583.0,659.2 585.0,659.2 587.0,659.0 589.0,658.6 591.0,658.0 593.0,657.2 595.0,656.2 596.8,655.1 598.5,654.0 600.3,652.7 602.0,651.3 603.8,649.8 605.3,648.5 606.8,647.1 608.3,645.6 609.8,644.0 611.3,642.4 612.8,640.8 614.3,639.1 615.8,637.3 617.3,635.5 618.8,633.7 620.3,631.8 621.5,630.2 622.8,628.6 624.0,627.0 625.3,625.4 626.5,623.7 627.8,622.0 629.0,620.4 630.3,618.7 631.5,617.0 632.8,615.3 634.0,613.6 635.3,611.9 636.5,610.1 637.8,608.4 639.0,606.7 640.3,605.1 641.5,603.4 642.8,601.7 644.0,600.0 645.3,598.4 646.5,596.8 647.8,595.2 649.0,593.6 650.3,592.0 651.8,590.2 653.3,588.4 654.8,586.6 656.3,584.9 657.8,583.2 659.3,581.6 660.8,580.0 662.3,578.5 663.8,577.0 665.3,575.5 666.8,574.0 668.3,572.6 669.8,571.2 671.3,569.8 672.8,568.5 674.3,567.1 675.8,565.8 677.3,564.5 679.0,562.9 680.8,561.4 682.5,559.8 684.3,558.3 685.8,557.0 687.3,555.6 688.8,554.3 690.3,552.9 691.8,551.5 693.3,550.1 694.8,548.7 696.3,547.3 697.8,545.8 699.3,544.3 700.8,542.7 702.3,541.1 703.8,539.5 705.3,537.8 706.8,536.1 708.3,534.4 709.8,532.5 711.3,530.7 712.5,529.1 713.8,527.4 715.0,525.8 716.3,524.0 717.5,522.3 718.8,520.5 720.0,518.7 721.3,516.8 722.5,514.9 723.8,513.0 725.0,511.0 726.3,509.0 727.5,507.0 728.8,504.9 730.0,502.8 731.3,500.6 732.3,498.9 733.3,497.1 734.3,495.3 735.3,493.5 736.3,491.7 737.3,489.8 738.3,487.9 739.3,486.0 740.3,484.1 741.3,482.2 742.3,480.2 743.3,478.2 744.3,476.2 745.3,474.2 746.3,472.2 747.3,470.1 748.3,468.0 749.3,465.9 750.3,463.8 751.3,461.6 752.3,459.5 753.3,457.3 754.3,455.1 755.3,452.9 756.3,450.6 757.3,448.4 758.3,446.1 759.3,443.8 760.3,441.5 761.3,439.2 762.3,436.8 763.3,434.5 764.3,432.1 765.3,429.7 766.3,427.4 767.3,425.0 768.3,422.6 769.3,420.2 770.3,417.7 771.3,415.3 772.3,412.9 773.3,410.5 774.3,408.0 775.3,405.6 776.3,403.1 777.3,400.7 778.3,398.3 779.3,395.8 780.3,393.4 781.3,390.9 782.3,388.5 783.3,386.0 784.3,383.6 785.3,381.2 786.3,378.8 787.3,376.3 788.3,373.9 789.3,371.5 790.3,369.1 791.3,366.7 792.3,364.4 793.3,362.0 794.3,359.7 795.3,357.3 796.3,355.0 797.3,352.7 798.3,350.4 799.3,348.1 800.3,345.8 801.3,343.6 802.3,341.4 803.3,339.2 804.3,337.0 805.3,334.8 806.3,332.7 807.3,330.5 808.3,328.4 809.3,326.4 810.3,324.3 811.3,322.3 812.3,320.3 813.3,318.3 814.3,316.4 815.3,314.4 816.3,312.6 817.3,310.7 818.3,308.9 819.3,307.1 820.3,305.3 821.5,303.2 822.8,301.1 824.0,299.0 825.3,297.0 826.5,295.1 827.8,293.2 829.0,291.4 830.3,289.7 831.5,288.0 832.8,286.4 834.3,284.5 835.8,282.8 837.3,281.1 838.8,279.6 840.3,278.1 842.0,276.6 843.8,275.2 845.5,274.0 847.3,273.0 849.3,272.0 851.3,271.2 853.3,270.7 855.3,270.4 857.3,270.3 859.3,270.5 861.3,270.9 863.3,271.6 865.3,272.6 867.0,273.6 868.8,274.8 870.5,276.2 872.0,277.6 873.5,279.1 875.0,280.8 876.5,282.6 877.8,284.2 879.0,285.9 880.3,287.8 881.5,289.7 882.8,291.7 884.0,293.9 885.0,295.7 886.0,297.5 887.0,299.4 888.0,301.4 889.0,303.5 890.0,305.6 891.0,307.8 892.0,310.0 893.0,312.4 894.0,314.8 895.0,317.2 895.8,319.1 896.5,321.1 897.3,323.0 898.0,325.0 898.8,327.1 899.5,329.2 900.3,331.3 901.0,333.5 901.8,335.7 902.5,337.9 903.3,340.2 904.0,342.5 904.8,344.9 905.5,347.3 906.3,349.8 907.0,352.2 907.8,354.8 908.5,357.3 909.3,359.9 910.0,362.6 910.8,365.2 911.5,367.9 912.3,370.7 913.0,373.4 913.8,376.2 914.5,379.0 915.3,381.9 916.0,384.8 916.8,387.6 917.3,389.6 917.8,391.6 918.3,393.5 918.8,395.5 919.3,397.5 919.8,399.5 920.3,401.5 920.8,403.5 921.3,405.5 921.8,407.6 922.3,409.6 922.8,411.6 923.3,413.7 923.8,415.7 924.3,417.8 924.8,419.9 925.3,422.0 925.8,424.0 926.3,426.1 926.8,428.2 927.3,430.3 927.8,432.4 928.3,434.5 928.8,436.6 929.3,438.7 929.8,440.9 930.3,443.0 930.8,445.1 931.3,447.2 931.8,449.3 932.3,451.5 932.8,453.6 933.3,455.7 933.8,457.8 934.3,460.0 934.8,462.1 935.3,464.2 935.8,466.3 936.3,468.5 936.8,470.6 937.3,472.7 937.8,474.8 938.3,477.0 938.8,479.1 939.3,481.2 939.8,483.4 940.3,485.5 940.8,487.6 941.3,489.7 941.8,491.9 942.3,494.0 942.8,496.1 943.3,498.2 943.8,500.3 944.3,502.5 944.8,504.6 945.3,506.7 945.8,508.8 946.3,510.9 946.8,513.0 947.3,515.1 947.8,517.2 948.3,519.3 948.8,521.4 949.3,523.5 949.8,525.6 950.3,527.7 950.8,529.8 951.3,531.9 951.8,534.0 952.3,536.0 952.8,538.1 953.3,540.2 953.8,542.3 954.3,544.3 954.8,546.4 955.3,548.4 955.8,550.5 956.3,552.5 956.8,554.6 957.3,556.6 957.8,558.7 958.3,560.7 958.8,562.7 959.3,564.8 959.8,566.8 960.3,568.8 960.8,570.8 961.3,572.8 961.8,574.8 962.3,576.8 962.8,578.8 963.3,580.8 963.8,582.8 964.3,584.7 964.8,586.7 965.3,588.7 965.8,590.6 966.3,592.6 966.8,594.5 967.3,596.4 968.0,599.3 968.8,602.2 969.5,605.1 970.3,607.9 971.0,610.8 971.8,613.6 972.5,616.4 973.3,619.1 974.0,621.9 974.8,624.6 975.5,627.3 976.3,630.0 977.0,632.6 977.8,635.3 978.5,637.9 979.3,640.4 980.0,643.0 980.8,645.5 981.5,647.9 982.3,650.4 983.0,652.7 983.8,655.1 984.5,657.4 985.3,659.7 986.0,661.9 986.8,664.1 987.5,666.3 988.3,668.4 989.0,670.4 989.8,672.4 990.5,674.4 991.3,676.3 992.0,678.2 993.0,680.6 994.0,683.0 995.0,685.3 996.0,687.5 997.0,689.6 998.0,691.6 999.0,693.6 1000.0,695.5 1001.0,697.4 1002.0,699.2 1003.3,701.3 1004.5,703.4 1005.8,705.3 1007.0,707.2 1008.3,709.0 1009.5,710.7 1010.8,712.3 1012.3,714.1 1013.8,715.9 1015.3,717.5 1016.8,719.1 1018.3,720.5 1019.8,721.9 1021.5,723.4 1023.3,724.7 1025.0,726.0 1026.8,727.1 1028.5,728.1 1030.5,729.1 1032.5,730.0 1034.5,730.8 1036.5,731.4 1038.5,731.9 1040.5,732.2 1042.5,732.5 1044.5,732.6 1046.5,732.6 1048.5,732.5 1050.5,732.2 1052.5,731.9 1054.5,731.5 1056.5,731.0 1058.5,730.3 1060.5,729.6 1062.5,728.8 1064.5,728.0 1066.5,727.0 1068.5,726.0 1070.5,724.9 1072.3,723.8 1074.0,722.8 1075.8,721.6 1077.5,720.5 1079.3,719.3 1081.0,718.0 1082.8,716.7 1084.5,715.4 1086.3,714.0 1088.0,712.6 1089.8,711.2 1091.5,709.7 1093.3,708.2 1095.0,706.7 1096.5,705.4 1098.0,704.0 1099.5,702.7 1101.0,701.3 1102.5,699.8 1104.0,698.4 1105.5,697.0 1107.0,695.5 1108.5,694.0 1110.0,692.5 1111.5,690.9 1113.0,689.4 1114.5,687.8 1116.0,686.2 1117.5,684.6 1119.0,683.0 1120.5,681.3 1122.0,679.7 1123.5,678.0 1125.0,676.3 1126.5,674.6 1128.0,672.9 1129.5,671.2 1131.0,669.4 1132.5,667.7 1134.0,665.9 1135.5,664.1 1137.0,662.3 1138.5,660.5 1140.0,658.7 1141.5,656.9 1143.0,655.1 1144.5,653.2 1146.0,651.4 1147.5,649.5 1149.0,647.6 1150.3,646.1 1151.5,644.5 1152.8,642.9 1154.0,641.3 1155.3,639.7 1156.5,638.1 1157.8,636.5 1159.0,634.9 1160.3,633.3 1161.5,631.7 1162.8,630.1 1164.0,628.4 1165.3,626.8 1166.5,625.2 1167.8,623.5 1169.0,621.9 1170.3,620.2 1171.5,618.5 1172.8,616.9 1174.0,615.2 1175.3,613.5 1176.5,611.8 1177.8,610.1 1179.0,608.4 1180.3,606.7 1181.5,605.0 1182.8,603.3 1184.0,601.5 1185.3,599.8 1186.5,598.1 1187.8,596.3 1189.0,594.5 1190.3,592.8 1191.5,591.0 1192.8,589.2 1194.0,587.5 1195.3,585.7 1196.5,583.9 1197.8,582.1 1199.0,580.3 1200.3,578.4 1201.5,576.6 1202.8,574.8 1204.0,572.9 1205.3,571.1 1206.5,569.2 1207.8,567.4 1209.0,565.5 1210.3,563.6 1211.5,561.8 1212.8,559.9 1214.0,558.0 1215.3,556.1 1216.5,554.1 1217.8,552.2 1219.0,550.3 1220.3,548.4 1221.5,546.4 1222.8,544.5 1224.0,542.5 1225.3,540.5 1226.5,538.6 1227.8,536.6 1229.0,534.6 1230.3,532.7 1231.5,530.7 1232.8,528.7 1234.0,526.7 1235.3,524.7 1236.5,522.7 1237.8,520.7 1239.0,518.7 1240.3,516.7 1241.5,514.8 1242.8,512.8 1244.0,510.8 1245.3,508.8 1246.5,506.8 1247.8,504.8 1249.0,502.9 1250.3,500.9 1251.5,498.9 1252.8,497.0 1254.0,495.0 1255.3,493.1 1256.5,491.1 1257.8,489.2 1259.0,487.3 1260.3,485.4 1261.5,483.5 1262.8,481.6 1264.0,479.7 1265.3,477.8 1266.5,475.9 1267.8,474.1 1269.0,472.2 1270.3,470.4 1271.5,468.6 1272.8,466.8 1274.0,465.0 1275.3,463.2 1276.5,461.5 1277.8,459.7 1279.0,458.0 1280.3,456.3 1281.5,454.6 1282.8,452.9 1284.0,451.3 1285.3,449.6 1286.5,448.0 1287.8,446.4 1289.0,444.8 1290.3,443.3 1291.8,441.4 1293.3,439.6 1294.8,437.8 1296.3,436.0 1297.8,434.3 1299.3,432.6 1300.8,430.9 1302.3,429.2 1303.8,427.6 1305.3,426.0 1306.8,424.4 1308.3,422.9 1309.8,421.3 1311.3,419.8 1312.8,418.4 1314.3,416.9 1315.8,415.5 1317.3,414.1 1318.8,412.8 1320.3,411.5 1322.0,409.9 1323.8,408.5 1325.5,407.0 1327.3,405.6 1329.0,404.3 1330.8,402.9 1332.5,401.7 1334.3,400.4 1336.0,399.2 1337.8,398.0 1339.5,396.9 1341.3,395.8 1343.0,394.8 1344.8,393.8 1346.5,392.8 1348.5,391.7 1350.5,390.7 1352.5,389.8 1354.5,388.9 1356.5,388.0 1358.5,387.2 1360.5,386.4 1362.5,385.7 1364.5,385.1 1366.5,384.5 1368.5,384.0 1370.5,383.5 1372.5,383.0 1374.5,382.6 1376.5,382.3 1378.5,382.0 1380.5,381.8 1382.5,381.6 1384.5,381.5 1386.5,381.5 1388.5,381.5 1390.5,381.5 1392.5,381.6 1394.5,381.7 1396.5,382.0 1398.5,382.2 1400.5,382.5 1402.5,382.9 1404.5,383.3 1406.5,383.8 1408.5,384.3 1410.5,384.9 1412.5,385.6 1414.5,386.3 1416.5,387.0 1418.5,387.8 1420.5,388.7 1422.5,389.6 1424.5,390.6 1426.5,391.6 1428.5,392.7 1430.3,393.7 1432.0,394.7 1433.8,395.8 1435.5,396.9 1437.3,398.1 1439.0,399.3 1440.8,400.5 1442.5,401.8 1444.3,403.1 1446.0,404.5 1447.8,405.9 1449.5,407.3 1451.3,408.8 1453.0,410.4 1454.5,411.7 1456.0,413.1 1457.5,414.5 1459.0,415.9 1460.5,417.4 1462.0,418.8 1463.5,420.4 1465.0,421.9 1466.5,423.5 1468.0,425.1 1469.5,426.7 1471.0,428.4 1472.5,430.1 1474.0,431.8 1475.5,433.6 1477.0,435.4 1478.5,437.2 1480.0,439.0 1481.5,440.9 1482.8,442.5 1484.0,444.1 1485.3,445.7 1486.5,447.3 1487.8,449.0 1489.0,450.7 1490.3,452.4 1491.5,454.1 1492.8,455.9 1494.0,457.6 1495.3,459.4 1496.5,461.2 1497.8,463.0 1499.0,464.9 1500.3,466.7 1501.5,468.6 1502.8,470.5 1504.0,472.4 1505.3,474.4 1506.5,476.3 1507.8,478.3 1509.0,480.3 1510.3,482.3 1511.5,484.4 1512.8,486.4 1514.0,488.5 1515.3,490.6 1516.5,492.7 1517.8,494.9 1519.0,497.0 1520.0,498.8 1521.0,500.5 1522.0,502.3 1523.0,504.1 1524.0,505.9 1525.0,507.7 1526.0,509.5 1527.0,511.3 1528.0,513.1 1529.0,515.0 1530.0,516.9 1531.0,518.7 1532.0,520.6 1533.0,522.5 1534.0,524.4 1535.0,526.4 1536.0,528.3 1537.0,530.3 1538.0,532.2 1539.0,534.2 1540.0,536.2 1541.0,538.2 1542.0,540.2 1543.0,542.2 1544.0,544.3 1545.0,546.3 1546.0,548.4 1547.0,550.5 1548.0,552.6 1549.0,554.7 1550.0,556.8 1551.0,558.9 1552.0,561.1 1553.0,563.3 1554.0,565.4 1555.0,567.6 1556.0,569.8 1557.0,572.0 1558.0,574.3 1559.0,576.5 1560.0,578.8 1561.0,581.1 1562.0,583.3 1563.0,585.6 1564.0,588.0 1565.0,590.3 1566.0,592.6 1567.0,595.0 1568.0,597.3 1569.0,599.7 1570.0,602.1 1571.0,604.5 1572.0,607.0 1573.0,609.4 1574.0,611.9 1575.0,614.3 1575.8,616.2 1576.5,618.1 1577.3,620.0 1578.0,621.9 1578.8,623.7 1579.5,625.7 1580.3,627.6 1581.0,629.5 1581.8,631.4 1582.5,633.4 1583.3,635.3 1584.0,637.3 1584.8,639.2 1585.5,641.2 1586.3,643.1 1587.0,645.1 1587.8,647.1 1588.5,649.0 1589.3,651.0 1590.0,652.9 1590.8,654.9 1591.5,656.9 1592.3,658.8 1593.0,660.7 1593.8,662.7 1594.5,664.6 1595.3,666.5 1596.0,668.4 1596.8,670.3 1597.5,672.2 1598.3,674.1 1599.0,676.0 1600.0,678.4 1601.0,680.8 1602.0,683.2 1603.0,685.6 1604.0,687.9 1605.0,690.2 1606.0,692.5 1607.0,694.7 1608.0,696.9 1609.0,699.1 1610.0,701.2 1611.0,703.3 1612.0,705.4 1613.0,707.5 1614.0,709.5 1615.0,711.5 1616.0,713.5 1617.0,715.4 1618.0,717.4 1619.0,719.3 1620.0,721.2 1621.0,723.1 1622.0,724.9 1623.0,726.8 1624.0,728.6 1625.0,730.4 1626.0,732.2 1627.0,734.0 1628.0,735.7 1629.0,737.5 1630.0,739.2 1631.3,741.4 1632.5,743.5 1633.8,745.6 1635.0,747.7 1636.3,749.8 1637.5,751.8 1638.8,753.8 1640.0,755.8 1641.3,757.8 1642.5,759.8 1643.8,761.7 1645.0,763.6 1646.3,765.5 1647.5,767.4 1648.8,769.2 1650.0,771.1 1651.3,772.9 1652.5,774.7 1653.8,776.4 1655.0,778.2 1656.3,779.9 1657.5,781.6 1658.8,783.2 1660.0,784.9 1661.3,786.5 1662.5,788.1 1663.8,789.7 1665.3,791.5 1666.8,793.4 1668.3,795.2 1669.8,796.9 1671.3,798.6 1672.8,800.3 1674.3,802.0 1675.8,803.6 1677.3,805.2 1678.8,806.8 1680.3,808.3 1681.8,809.8 1683.3,811.2 1684.8,812.7 1686.3,814.0 1687.8,815.4 1689.5,816.9 1691.3,818.4 1693.0,819.8 1694.8,821.2 1696.5,822.6 1698.3,823.9 1700.0,825.1 1701.8,826.3 1703.5,827.5 1705.3,828.6 1707.0,829.7 1708.8,830.7 1710.5,831.8 1712.3,832.7 1714.3,833.8 1716.3,834.8 1718.3,835.8 1720.3,836.7 1722.3,837.6 1724.3,838.5 1726.3,839.3 1728.3,840.1 1730.3,840.8 1732.3,841.5 1734.3,842.2 1736.3,842.9 1738.3,843.5 1740.3,844.1 1742.3,844.6 1744.3,845.2 1746.3,845.7 1748.3,846.2 1750.3,846.7 1752.3,847.1 1754.3,847.5 1756.3,848.0 1758.3,848.4 1760.3,848.8 1762.3,849.1 1764.3,849.5 1766.3,849.9 1768.3,850.2 1770.3,850.5 1772.3,850.9 1774.3,851.2 1776.3,851.5 1778.3,851.8 1780.3,852.1 1782.3,852.4 1784.3,852.7 1786.3,853.0 1788.3,853.3 1790.3,853.5 1792.3,853.8 1794.3,854.0 1796.3,854.3 1798.3,854.5 1800.3,854.7 1802.3,854.9 1804.3,855.2 1806.3,855.4 1808.3,855.6 1810.3,855.8 1812.3,855.9 1814.3,856.1 1816.3,856.3 1818.3,856.5 1820.3,856.6 1822.3,856.8 1824.3,856.9 1826.3,857.1 1828.3,857.2 1830.3,857.4 1832.3,857.5 1834.3,857.6 1836.3,857.7 1838.3,857.8 1840.3,858.0 1842.3,858.1 1844.3,858.2 1846.3,858.2 1848.3,858.3 1850.3,858.4 1852.3,858.5 1854.3,858.6 1856.3,858.7 1858.3,858.7 1860.3,858.8 1862.3,858.8 1864.3,858.9 1866.3,859.0 1868.3,859.0 1870.3,859.0 1872.3,859.1 1874.3,859.1 1876.3,859.2 1878.3,859.2 1880.3,859.2 1882.3,859.2 1884.3,859.3 1886.3,859.3 1888.3,859.3 1890.3,859.3 1892.3,859.3 1894.3,859.4 1896.3,859.4 1898.3,859.4 1900.3,859.4 1902.3,859.4 1904.3,859.4 1906.3,859.4 1908.3,859.4 1910.3,859.4 1912.3,859.4 1914.3,859.4 1916.3,859.3 1918.3,859.3 1920.3,859.3 1922.3,859.3 1924.3,859.3 1926.3,859.3 1928.3,859.3 1930.3,859.3 1932.3,859.3 1934.3,859.2 1936.3,859.2 1938.3,859.2 1940.3,859.2 1942.3,859.2 1944.3,859.2 1946.3,859.1 1948.3,859.1 1950.3,859.1 1952.3,859.1 1954.3,859.1 1956.3,859.1 1958.3,859.1 1960.3,859.1 1962.3,859.0 1964.3,859.0 1966.3,859.0 1968.3,859.0 1970.3,859.0 1972.3,859.0 1974.3,859.0 1976.3,859.0 1978.3,859.0 1980.3,859.0 1982.3,859.0 1984.3,859.0 1986.3,859.0 1988.3,859.0 1990.3,859.0 1992.3,859.0 1994.3,859.0 1996.3,859.0 1998.3,859.0 2000.3,859.0 2002.3,859.0 2004.3,859.0 2006.3,859.0 2008.3,859.0 2010.3,859.0 2012.3,859.0 2014.3,859.0 2016.3,859.0 2018.3,859.0 2020.3,859.0 2022.3,859.0 2024.3,859.0 2026.3,859.0 2028.3,859.0 2030.3,859.0 2032.3,859.0 2034.3,859.0 2036.3,859.0 2038.3,859.0 2040.3,859.0 2042.3,859.1 2044.3,859.1 2046.3,859.1 2048.3,859.1 2050.3,859.1 2052.3,859.1 2054.3,859.1 2056.3,859.1 2058.3,859.1 2060.3,859.1 2062.3,859.1 2064.3,859.2 2066.3,859.2 2068.3,859.2 2070.3,859.2 2072.3,859.2 2074.3,859.2 2076.3,859.2 2078.3,859.2 2080.3,859.3 2082.3,859.3 2084.3,859.3 2086.3,859.3 2088.3,859.3 2090.3,859.3 2092.3,859.3 2094.3,859.3 2096.3,859.4 2098.3,859.4 2100.3,859.4 2102.3,859.4 2104.3,859.4 2106.3,859.4 2108.3,859.4 2110.3,859.5 2112.3,859.5 2114.3,859.5 2116.3,859.5 2118.3,859.5 2120.3,859.5 2122.3,859.5 2124.3,859.6 2126.3,859.6 2128.3,859.6 2130.3,859.6 2132.3,859.6 2134.3,859.6 2136.3,859.7 2138.3,859.7 2140.3,859.7 2142.3,859.7 2144.3,859.7 2146.3,859.7 2148.3,859.7 2150.3,859.8 2152.3,859.8 2154.3,859.8 2156.3,859.8 2158.3,859.8 2160.3,859.8 2162.3,859.8 2164.3,859.9 2166.3,859.9 2168.3,859.9 2170.3,859.9 2172.3,859.9 2174.3,859.9 2176.3,859.9 2178.3,859.9 2180.3,860.0 2182.3,860.0 2184.3,860.0 2186.3,860.0 2188.3,860.0 2190.3,860.0 2192.3,860.0 2194.3,860.0 2196.3,860.1 2198.3,860.1 2200.3,860.1 2202.3,860.1 2204.3,860.1 2206.3,860.1 2208.3,860.1 2210.3,860.1 2212.3,860.1 2214.3,860.1 2216.3,860.2 2218.3,860.2 2220.3,860.2 2222.3,860.2 2224.3,860.2 2226.3,860.2 2228.3,860.2 2230.3,860.2 2232.3,860.2 2234.3,860.2 2236.3,860.2 2238.3,860.2 2240.3,860.2 2242.3,860.2 2244.3,860.2 2246.3,860.2 2248.3,860.2 2250.3,860.2 2252.3,860.2 2254.3,860.2 2256.3,860.2 2258.3,860.2 2260.3,860.2 2262.3,860.2 2264.3,860.2 2266.3,860.2 2268.3,860.2 2270.3,860.2 2272.3,860.2 2274.3,860.2 2276.3,860.2 2278.3,860.2 2280.3,860.2 2282.3,860.2 2284.3,860.2 2286.3,860.2 2288.3,860.2 2290.3,860.2 2292.3,860.2 2294.3,860.2 2296.3,860.2 2298.3,860.2 2300.3,860.1 2302.3,860.1 2304.3,860.1 2306.3,860.1 2308.3,860.1 2310.3,860.1 2312.3,860.1 2314.3,860.1 2316.3,860.0 2318.3,860.0 2320.3,860.0 2322.3,860.0 2324.3,860.0 2326.3,860.0 2328.3,859.9 2330.3,859.9 2332.3,859.9 2334.3,859.9 2336.3,859.9 2338.3,859.8 2340.3,859.8 2342.3,859.8 2344.3,859.8 2346.3,859.7 2348.3,859.7 2350.3,859.7 2352.3,859.6 2354.3,859.6 2356.3,859.6 2358.3,859.6 2360.3,859.5 2362.3,859.5 2364.3,859.5 2366.3,859.4 2368.3,859.4 2370.3,859.4 2372.3,859.3 2374.3,859.3 2376.3,859.2 2378.3,859.2 2380.0,859.2"/>
<path stroke="#ff00ff" d="M218.0,284.9 L219.2,286.8 220.5,289.0 221.5,290.9 222.5,293.1 223.5,295.4 224.2,297.3 225.0,299.3 225.8,301.4 226.5,303.5 227.2,305.8 228.0,308.1 228.8,310.5 229.5,313.0 230.2,315.5 231.0,318.1 231.8,320.8 232.5,323.5 233.2,326.3 234.0,329.1 234.8,332.0 235.2,333.9 235.8,335.9 236.2,337.8 236.8,339.8 237.2,341.8 237.8,343.8 238.2,345.8 238.8,347.9 239.2,349.9 239.8,352.0 240.2,354.0 240.8,356.1 241.2,358.2 241.8,360.2 242.2,362.3 242.8,364.4 243.2,366.5 243.8,368.5 244.2,370.6 244.8,372.7 245.2,374.7 245.8,376.8 246.2,378.8 246.8,380.9 247.2,382.9 247.8,385.0 248.2,387.0 248.8,389.0 249.2,391.0 249.8,392.9 250.2,394.9 250.8,396.9 251.2,398.8 252.0,401.7 252.8,404.6 253.5,407.4 254.2,410.2 255.0,413.0 255.8,415.7 256.5,418.4 257.2,421.1 258.0,423.7 258.8,426.4 259.5,428.9 260.2,431.5 261.0,434.0 261.8,436.5 262.5,438.9 263.2,441.3 264.0,443.7 264.8,446.0 265.5,448.3 266.2,450.6 267.0,452.8 267.8,455.0 268.5,457.1 269.2,459.2 270.0,461.3 270.8,463.3 271.5,465.3 272.2,467.2 273.0,469.1 274.0,471.6 275.0,474.0 276.0,476.3 277.0,478.5 278.0,480.6 279.0,482.7 280.0,484.6 281.0,486.5 282.0,488.3 283.2,490.4 284.5,492.4 285.8,494.3 287.0,496.0 288.5,497.8 290.0,499.5 291.5,500.9 293.2,502.4 295.0,503.7 296.8,504.7 298.8,505.6 300.8,506.3 302.8,506.7 304.8,506.8 306.8,506.7 308.8,506.4 310.8,505.9 312.8,505.2 314.8,504.4 316.8,503.4 318.5,502.4 320.2,501.2 322.0,500.1 323.8,498.8 325.5,497.4 327.2,496.0 329.0,494.6 330.8,493.1 332.5,491.5 334.0,490.2 335.5,488.8 337.0,487.5 338.5,486.1 340.0,484.8 341.5,483.4 343.2,481.9 345.0,480.4 346.8,479.0 348.5,477.5 350.2,476.2 352.0,474.9 353.8,473.6 355.5,472.4 357.2,471.2 359.0,470.0 360.8,468.9 362.5,467.8 364.2,466.7 366.0,465.6 367.8,464.5 369.5,463.4 371.2,462.2 373.0,461.1 374.8,460.0 376.5,458.8 378.2,457.6 380.0,456.4 381.8,455.1 383.5,453.8 385.2,452.5 387.0,451.1 388.8,449.6 390.5,448.1 392.0,446.7 393.5,445.3 395.0,443.8 396.5,442.3 398.0,440.7 399.5,439.1 401.0,437.3 402.5,435.5 404.0,433.7 405.2,432.1 406.5,430.4 407.8,428.7 409.0,426.9 410.2,425.0 411.5,423.1 412.8,421.1 414.0,419.1 415.2,417.0 416.2,415.2 417.2,413.5 418.2,411.6 419.2,409.8 420.2,407.9 421.2,405.9 422.2,404.0 423.2,402.0 424.2,400.0 425.2,398.0 426.2,395.9 427.2,393.9 428.2,391.8 429.2,389.8 430.2,387.7 431.2,385.7 432.2,383.7 433.2,381.6 434.2,379.6 435.2,377.6 436.2,375.7 437.2,373.7 438.2,371.8 439.2,369.9 440.2,368.1 441.2,366.3 442.2,364.6 443.5,362.5 444.8,360.4 446.0,358.5 447.2,356.6 448.5,354.9 449.8,353.3 451.2,351.5 452.8,349.9 454.2,348.4 456.0,347.0 457.8,345.9 459.8,344.9 461.8,344.3 463.8,344.1 465.8,344.4 467.8,345.0 469.8,346.1 471.5,347.5 473.0,349.0 474.5,350.7 475.8,352.3 477.0,354.2 478.2,356.3 479.2,358.1 480.2,360.0 481.2,362.1 482.2,364.3 483.2,366.7 484.0,368.5 484.8,370.5 485.5,372.5 486.2,374.6 487.0,376.8 487.8,379.1 488.5,381.4 489.2,383.9 490.0,386.4 490.8,389.0 491.5,391.7 492.2,394.5 493.0,397.4 493.8,400.3 494.2,402.3 494.8,404.3 495.2,406.3 495.8,408.4 496.2,410.5 496.8,412.6 497.2,414.7 497.8,416.9 498.2,419.1 498.8,421.3 499.2,423.5 499.8,425.8 500.2,428.0 500.8,430.3 501.2,432.6 501.8,435.0 502.2,437.3 502.8,439.6 503.2,442.0 503.8,444.4 504.2,446.8 504.8,449.2 505.2,451.6 505.8,454.0 506.2,456.5 506.8,458.9 507.2,461.4 507.8,463.8 508.2,466.3 508.8,468.7 509.2,471.2 509.8,473.7 510.2,476.1 510.8,478.6 511.2,481.1 511.8,483.6 512.2,486.0 512.8,488.5 513.2,490.9 513.8,493.4 514.2,495.9 514.8,498.3 515.2,500.7 515.8,503.2 516.2,505.6 516.8,508.0 517.2,510.4 517.8,512.8 518.2,515.2 518.8,517.6 519.2,519.9 519.8,522.2 520.2,524.6 520.8,526.9 521.2,529.2 521.8,531.5 522.2,533.8 522.8,536.0 523.2,538.3 523.8,540.5 524.2,542.7 524.8,544.9 525.2,547.1 525.8,549.3 526.2,551.5 526.8,553.6 527.2,555.7 527.8,557.8 528.2,559.9 528.8,562.0 529.2,564.1 529.8,566.2 530.2,568.2 530.8,570.2 531.2,572.2 531.8,574.2 532.2,576.2 532.8,578.1 533.2,580.1 534.0,582.9 534.8,585.8 535.5,588.6 536.2,591.3 537.0,594.0 537.8,596.7 538.5,599.3 539.2,601.9 540.0,604.5 540.8,607.0 541.5,609.4 542.2,611.8 543.0,614.2 543.8,616.5 544.5,618.8 545.2,621.0 546.0,623.2 546.8,625.3 547.5,627.4 548.2,629.4 549.0,631.4 549.8,633.4 550.5,635.2 551.5,637.7 552.5,640.0 553.5,642.2 554.5,644.4 555.5,646.4 556.5,648.4 557.5,650.2 558.5,652.0 559.8,654.0 561.0,656.0 562.2,657.7 563.5,659.3 565.0,661.1 566.5,662.7 568.0,664.1 569.8,665.4 571.5,666.6 573.5,667.6 575.5,668.4 577.5,668.9 579.5,669.1 581.5,669.0 583.5,668.8 585.5,668.3 587.5,667.6 589.5,666.8 591.5,665.7 593.2,664.7 595.0,663.5 596.8,662.3 598.5,660.9 600.2,659.5 602.0,657.9 603.5,656.6 605.0,655.2 606.5,653.7 608.0,652.2 609.5,650.6 611.0,649.0 612.5,647.3 614.0,645.7 615.5,643.9 617.0,642.2 618.5,640.4 620.0,638.6 621.5,636.8 623.0,634.9 624.2,633.4 625.5,631.8 626.8,630.2 628.0,628.6 629.2,627.0 630.5,625.4 631.8,623.8 633.0,622.2 634.2,620.5 635.5,618.9 636.8,617.3 638.0,615.7 639.2,614.1 640.5,612.4 641.8,610.8 643.0,609.3 644.2,607.7 645.5,606.1 646.8,604.5 648.2,602.7 649.8,600.8 651.2,599.0 652.8,597.2 654.2,595.5 655.8,593.8 657.2,592.1 658.8,590.4 660.2,588.8 661.8,587.2 663.2,585.7 664.8,584.1 666.2,582.6 667.8,581.1 669.2,579.6 670.8,578.2 672.2,576.7 673.8,575.3 675.2,573.9 676.8,572.5 678.2,571.1 679.8,569.7 681.2,568.3 682.8,566.9 684.2,565.6 685.8,564.2 687.2,562.8 688.8,561.5 690.2,560.1 691.8,558.7 693.2,557.3 694.8,555.9 696.2,554.5 697.8,553.1 699.2,551.6 700.8,550.2 702.2,548.7 703.8,547.2 705.2,545.7 706.8,544.2 708.2,542.6 709.8,541.0 711.2,539.4 712.8,537.8 714.2,536.1 715.8,534.4 717.2,532.7 718.8,530.9 720.2,529.1 721.8,527.3 723.2,525.4 724.5,523.8 725.8,522.2 727.0,520.6 728.2,518.9 729.5,517.2 730.8,515.4 732.0,513.7 733.2,511.9 734.5,510.1 735.8,508.2 737.0,506.3 738.2,504.4 739.5,502.5 740.8,500.5 742.0,498.5 743.2,496.4 744.5,494.3 745.8,492.2 747.0,490.0 748.0,488.3 749.0,486.5 750.0,484.7 751.0,482.9 752.0,481.0 753.0,479.1 754.0,477.2 755.0,475.3 756.0,473.4 757.0,471.4 758.0,469.4 759.0,467.3 760.0,465.3 761.0,463.2 762.0,461.2 763.0,459.1 764.0,456.9 765.0,454.8 766.0,452.7 767.0,450.5 768.0,448.4 769.0,446.2 770.0,444.0 771.0,441.8 772.0,439.6 773.0,437.4 774.0,435.2 775.0,433.0 776.0,430.7 777.0,428.5 778.0,426.3 779.0,424.1 780.0,421.8 781.0,419.6 782.0,417.4 783.0,415.2 784.0,413.0 785.0,410.8 786.0,408.6 787.0,406.4 788.0,404.3 789.0,402.1 790.0,399.9 791.0,397.8 792.0,395.7 793.0,393.6 794.0,391.5 795.0,389.4 796.0,387.4 797.0,385.4 798.0,383.3 799.0,381.4 800.0,379.4 801.0,377.5 802.0,375.5 803.0,373.7 804.0,371.8 805.0,369.9 806.0,368.1 807.0,366.4 808.0,364.6 809.2,362.4 810.5,360.3 811.8,358.3 813.0,356.2 814.2,354.3 815.5,352.3 816.8,350.5 818.0,348.6 819.2,346.9 820.5,345.1 821.8,343.5 823.0,341.9 824.5,340.0 826.0,338.2 827.5,336.5 829.0,334.9 830.5,333.4 832.0,331.9 833.5,330.6 835.2,329.1 837.0,327.8 838.8,326.5 840.5,325.5 842.5,324.4 844.5,323.5 846.5,322.8 848.5,322.2 850.5,321.9 852.5,321.7 854.5,321.8 856.5,322.0 858.5,322.5 860.5,323.1 862.5,324.0 864.5,325.0 866.2,326.1 868.0,327.4 869.8,328.8 871.2,330.2 872.8,331.6 874.2,333.2 875.8,335.0 877.2,336.8 878.5,338.4 879.8,340.2 881.0,342.0 882.2,343.9 883.5,345.9 884.8,347.9 886.0,350.1 887.0,351.9 888.0,353.8 889.0,355.7 890.0,357.7 891.0,359.7 892.0,361.8 893.0,363.9 894.0,366.2 895.0,368.4 896.0,370.8 897.0,373.2 898.0,375.6 898.8,377.5 899.5,379.4 900.2,381.4 901.0,383.3 901.8,385.4 902.5,387.4 903.2,389.5 904.0,391.6 904.8,393.8 905.5,396.0 906.2,398.2 907.0,400.5 907.8,402.8 908.5,405.1 909.2,407.5 910.0,409.8 910.8,412.2 911.5,414.7 912.2,417.2 913.0,419.7 913.8,422.2 914.5,424.7 915.2,427.3 916.0,429.9 916.8,432.5 917.5,435.2 918.2,437.8 919.0,440.5 919.8,443.2 920.5,445.9 921.2,448.7 922.0,451.5 922.8,454.2 923.5,457.0 924.2,459.9 925.0,462.7 925.8,465.5 926.5,468.4 927.2,471.3 928.0,474.1 928.8,477.0 929.2,479.0 929.8,480.9 930.2,482.9 930.8,484.8 931.2,486.8 931.8,488.7 932.2,490.7 932.8,492.7 933.2,494.6 933.8,496.6 934.2,498.6 934.8,500.6 935.2,502.6 935.8,504.5 936.2,506.5 936.8,508.5 937.2,510.5 937.8,512.5 938.2,514.5 938.8,516.5 939.2,518.5 939.8,520.5 940.2,522.5 940.8,524.5 941.2,526.5 941.8,528.5 942.2,530.5 942.8,532.5 943.2,534.5 943.8,536.4 944.2,538.4 944.8,540.4 945.2,542.4 945.8,544.4 946.2,546.4 946.8,548.4 947.2,550.4 947.8,552.3 948.2,554.3 948.8,556.3 949.2,558.2 949.8,560.2 950.2,562.2 950.8,564.1 951.2,566.1 951.8,568.0 952.2,570.0 952.8,571.9 953.5,574.8 954.2,577.7 955.0,580.6 955.8,583.5 956.5,586.3 957.2,589.1 958.0,592.0 958.8,594.8 959.5,597.6 960.2,600.3 961.0,603.1 961.8,605.8 962.5,608.5 963.2,611.2 964.0,613.9 964.8,616.6 965.5,619.2 966.2,621.8 967.0,624.4 967.8,627.0 968.5,629.5 969.2,632.0 970.0,634.5 970.8,637.0 971.5,639.4 972.2,641.8 973.0,644.2 973.8,646.5 974.5,648.8 975.2,651.1 976.0,653.4 976.8,655.6 977.5,657.8 978.2,660.0 979.0,662.1 979.8,664.2 980.5,666.2 981.2,668.2 982.0,670.2 982.8,672.2 983.5,674.1 984.2,676.0 985.2,678.4 986.2,680.8 987.2,683.2 988.2,685.4 989.2,687.6 990.2,689.8 991.2,691.9 992.2,694.0 993.2,696.0 994.2,697.9 995.2,699.8 996.2,701.6 997.2,703.4 998.5,705.5 999.8,707.6 1001.0,709.6 1002.2,711.5 1003.5,713.3 1004.8,715.1 1006.0,716.8 1007.2,718.4 1008.8,720.2 1010.2,722.0 1011.8,723.6 1013.2,725.1 1014.8,726.6 1016.2,727.9 1018.0,729.4 1019.8,730.7 1021.5,732.0 1023.2,733.1 1025.0,734.1 1027.0,735.1 1029.0,735.9 1031.0,736.7 1033.0,737.3 1035.0,737.8 1037.0,738.2 1039.0,738.5 1041.0,738.7 1043.0,738.7 1045.0,738.7 1047.0,738.6 1049.0,738.4 1051.0,738.1 1053.0,737.7 1055.0,737.2 1057.0,736.7 1059.0,736.0 1061.0,735.3 1063.0,734.5 1065.0,733.6 1067.0,732.7 1069.0,731.7 1071.0,730.6 1072.8,729.6 1074.5,728.6 1076.2,727.5 1078.0,726.3 1079.8,725.1 1081.5,723.9 1083.2,722.6 1085.0,721.3 1086.8,720.0 1088.5,718.6 1090.2,717.1 1092.0,715.7 1093.8,714.2 1095.5,712.6 1097.0,711.3 1098.5,709.9 1100.0,708.6 1101.5,707.2 1103.0,705.7 1104.5,704.3 1106.0,702.8 1107.5,701.4 1109.0,699.9 1110.5,698.4 1112.0,696.9 1113.5,695.3 1115.0,693.8 1116.5,692.3 1118.0,690.7 1119.5,689.1 1121.0,687.5 1122.5,686.0 1124.0,684.4 1125.5,682.7 1127.0,681.1 1128.5,679.5 1130.0,677.9 1131.5,676.2 1133.0,674.6 1134.5,672.9 1136.0,671.2 1137.5,669.5 1139.0,667.9 1140.5,666.1 1142.0,664.4 1143.5,662.7 1145.0,661.0 1146.5,659.2 1148.0,657.5 1149.5,655.7 1151.0,653.9 1152.5,652.2 1154.0,650.4 1155.5,648.6 1157.0,646.8 1158.5,644.9 1160.0,643.1 1161.5,641.3 1163.0,639.4 1164.5,637.5 1165.8,636.0 1167.0,634.4 1168.2,632.8 1169.5,631.2 1170.8,629.6 1172.0,628.1 1173.2,626.4 1174.5,624.8 1175.8,623.2 1177.0,621.6 1178.2,619.9 1179.5,618.3 1180.8,616.6 1182.0,615.0 1183.2,613.3 1184.5,611.6 1185.8,610.0 1187.0,608.3 1188.2,606.6 1189.5,604.9 1190.8,603.2 1192.0,601.4 1193.2,599.7 1194.5,598.0 1195.8,596.2 1197.0,594.5 1198.2,592.7 1199.5,591.0 1200.8,589.2 1202.0,587.5 1203.2,585.7 1204.5,583.9 1205.8,582.1 1207.0,580.3 1208.2,578.6 1209.5,576.8 1210.8,575.0 1212.0,573.2 1213.2,571.4 1214.5,569.6 1215.8,567.8 1217.0,566.0 1218.2,564.2 1219.5,562.4 1220.8,560.6 1222.0,558.8 1223.2,557.0 1224.5,555.2 1225.8,553.3 1227.0,551.5 1228.2,549.7 1229.5,547.9 1230.8,546.1 1232.0,544.3 1233.2,542.5 1234.5,540.7 1235.8,538.9 1237.0,537.1 1238.2,535.4 1239.5,533.6 1240.8,531.8 1242.0,530.0 1243.2,528.2 1244.5,526.5 1245.8,524.7 1247.0,523.0 1248.2,521.2 1249.5,519.4 1250.8,517.7 1252.0,516.0 1253.2,514.2 1254.5,512.5 1255.8,510.8 1257.0,509.1 1258.2,507.4 1259.5,505.7 1260.8,504.0 1262.0,502.3 1263.2,500.6 1264.5,499.0 1265.8,497.3 1267.0,495.7 1268.2,494.0 1269.5,492.4 1270.8,490.8 1272.0,489.2 1273.2,487.6 1274.5,486.0 1275.8,484.4 1277.0,482.9 1278.5,481.0 1280.0,479.2 1281.5,477.4 1283.0,475.5 1284.5,473.8 1286.0,472.0 1287.5,470.2 1289.0,468.5 1290.5,466.8 1292.0,465.1 1293.5,463.4 1295.0,461.8 1296.5,460.2 1298.0,458.6 1299.5,457.0 1301.0,455.5 1302.5,453.9 1304.0,452.4 1305.5,450.9 1307.0,449.5 1308.5,448.1 1310.0,446.7 1311.5,445.3 1313.0,443.9 1314.8,442.4 1316.5,440.9 1318.2,439.4 1320.0,438.0 1321.8,436.6 1323.5,435.3 1325.2,434.0 1327.0,432.8 1328.8,431.5 1330.5,430.4 1332.2,429.2 1334.0,428.2 1335.8,427.1 1337.5,426.1 1339.2,425.1 1341.2,424.1 1343.2,423.1 1345.2,422.1 1347.2,421.2 1349.2,420.3 1351.2,419.6 1353.2,418.8 1355.2,418.1 1357.2,417.5 1359.2,416.9 1361.2,416.3 1363.2,415.9 1365.2,415.4 1367.2,415.0 1369.2,414.7 1371.2,414.4 1373.2,414.2 1375.2,414.0 1377.2,413.9 1379.2,413.8 1381.2,413.8 1383.2,413.8 1385.2,413.9 1387.2,414.0 1389.2,414.2 1391.2,414.4 1393.2,414.7 1395.2,415.0 1397.2,415.4 1399.2,415.8 1401.2,416.3 1403.2,416.8 1405.2,417.4 1407.2,418.0 1409.2,418.7 1411.2,419.4 1413.2,420.2 1415.2,421.0 1417.2,421.8 1419.2,422.8 1421.2,423.7 1423.2,424.7 1425.2,425.8 1427.2,426.9 1429.0,427.9 1430.8,429.0 1432.5,430.0 1434.2,431.2 1436.0,432.3 1437.8,433.5 1439.5,434.7 1441.2,436.0 1443.0,437.3 1444.8,438.6 1446.5,440.0 1448.2,441.4 1450.0,442.9 1451.8,444.4 1453.5,445.9 1455.0,447.2 1456.5,448.6 1458.0,450.0 1459.5,451.4 1461.0,452.8 1462.5,454.3 1464.0,455.8 1465.5,457.3 1467.0,458.8 1468.5,460.4 1470.0,462.0 1471.5,463.6 1473.0,465.3 1474.5,466.9 1476.0,468.6 1477.5,470.4 1479.0,472.1 1480.5,473.9 1482.0,475.7 1483.5,477.5 1485.0,479.4 1486.2,481.0 1487.5,482.6 1488.8,484.2 1490.0,485.8 1491.2,487.5 1492.5,489.1 1493.8,490.8 1495.0,492.5 1496.2,494.2 1497.5,496.0 1498.8,497.7 1500.0,499.5 1501.2,501.3 1502.5,503.1 1503.8,504.9 1505.0,506.8 1506.2,508.6 1507.5,510.5 1508.8,512.4 1510.0,514.4 1511.2,516.3 1512.5,518.3 1513.8,520.2 1515.0,522.2 1516.2,524.2 1517.5,526.3 1518.8,528.3 1520.0,530.4 1521.2,532.5 1522.5,534.6 1523.8,536.7 1525.0,538.9 1526.2,541.0 1527.2,542.8 1528.2,544.5 1529.2,546.3 1530.2,548.1 1531.2,549.9 1532.2,551.7 1533.2,553.5 1534.2,555.3 1535.2,557.2 1536.2,559.0 1537.2,560.9 1538.2,562.7 1539.2,564.6 1540.2,566.5 1541.2,568.4 1542.2,570.4 1543.2,572.3 1544.2,574.2 1545.2,576.2 1546.2,578.2 1547.2,580.1 1548.2,582.1 1549.2,584.1 1550.2,586.1 1551.2,588.2 1552.2,590.2 1553.2,592.3 1554.2,594.3 1555.2,596.4 1556.2,598.5 1557.2,600.6 1558.2,602.7 1559.2,604.8 1560.2,606.9 1561.2,609.1 1562.2,611.2 1563.2,613.4 1564.2,615.6 1565.2,617.7 1566.2,619.9 1567.2,622.1 1568.2,624.3 1569.2,626.5 1570.2,628.7 1571.2,630.9 1572.2,633.1 1573.2,635.4 1574.2,637.6 1575.2,639.8 1576.2,642.0 1577.2,644.2 1578.2,646.5 1579.2,648.7 1580.2,650.9 1581.2,653.2 1582.2,655.4 1583.2,657.6 1584.2,659.8 1585.2,662.0 1586.2,664.2 1587.2,666.5 1588.2,668.7 1589.2,670.9 1590.2,673.1 1591.2,675.2 1592.2,677.4 1593.2,679.6 1594.2,681.8 1595.2,683.9 1596.2,686.1 1597.2,688.2 1598.2,690.3 1599.2,692.4 1600.2,694.5 1601.2,696.6 1602.2,698.7 1603.2,700.8 1604.2,702.8 1605.2,704.9 1606.2,706.9 1607.2,708.9 1608.2,710.9 1609.2,712.9 1610.2,714.9 1611.2,716.8 1612.2,718.8 1613.2,720.7 1614.2,722.6 1615.2,724.5 1616.2,726.4 1617.2,728.3 1618.2,730.1 1619.2,731.9 1620.2,733.8 1621.2,735.6 1622.2,737.4 1623.2,739.1 1624.2,740.9 1625.2,742.6 1626.5,744.8 1627.8,746.9 1629.0,749.0 1630.2,751.1 1631.5,753.2 1632.8,755.2 1634.0,757.2 1635.2,759.2 1636.5,761.1 1637.8,763.0 1639.0,764.9 1640.2,766.8 1641.5,768.6 1642.8,770.4 1644.0,772.2 1645.2,773.9 1646.5,775.6 1647.8,777.3 1649.0,779.0 1650.2,780.6 1651.5,782.2 1652.8,783.8 1654.2,785.6 1655.8,787.4 1657.2,789.2 1658.8,790.9 1660.2,792.5 1661.8,794.1 1663.2,795.7 1664.8,797.2 1666.2,798.7 1667.8,800.2 1669.2,801.6 1670.8,803.0 1672.2,804.3 1674.0,805.8 1675.8,807.3 1677.5,808.7 1679.2,810.0 1681.0,811.4 1682.8,812.6 1684.5,813.9 1686.2,815.0 1688.0,816.2 1689.8,817.3 1691.5,818.4 1693.2,819.4 1695.0,820.4 1697.0,821.5 1699.0,822.5 1701.0,823.5 1703.0,824.5 1705.0,825.4 1707.0,826.3 1709.0,827.1 1711.0,827.9 1713.0,828.7 1715.0,829.5 1717.0,830.2 1719.0,830.9 1721.0,831.5 1723.0,832.2 1725.0,832.8 1727.0,833.4 1729.0,834.0 1731.0,834.6 1733.0,835.1 1735.0,835.6 1737.0,836.2 1739.0,836.7 1741.0,837.2 1743.0,837.6 1745.0,838.1 1747.0,838.6 1749.0,839.0 1751.0,839.4 1753.0,839.8 1755.0,840.2 1757.0,840.6 1759.0,841.0 1761.0,841.4 1763.0,841.7 1765.0,842.0 1767.0,842.4 1769.0,842.7 1771.0,843.0 1773.0,843.3 1775.0,843.6 1777.0,843.8 1779.0,844.1 1781.0,844.3 1783.0,844.6 1785.0,844.8 1787.0,845.1 1789.0,845.3 1791.0,845.5 1793.0,845.7 1795.0,845.9 1797.0,846.1 1799.0,846.2 1801.0,846.4 1803.0,846.6 1805.0,846.7 1807.0,846.9 1809.0,847.0 1811.0,847.2 1813.0,847.3 1815.0,847.4 1817.0,847.5 1819.0,847.6 1821.0,847.8 1823.0,847.9 1825.0,848.0 1827.0,848.1 1829.0,848.2 1831.0,848.3 1833.0,848.3 1835.0,848.4 1837.0,848.5 1839.0,848.6 1841.0,848.7 1843.0,848.7 1845.0,848.8 1847.0,848.9 1849.0,849.0 1851.0,849.0 1853.0,849.1 1855.0,849.2 1857.0,849.2 1859.0,849.3 1861.0,849.4 1863.0,849.4 1865.0,849.5 1867.0,849.6 1869.0,849.6 1871.0,849.7 1873.0,849.8 1875.0,849.8 1877.0,849.9 1879.0,849.9 1881.0,850.0 1883.0,850.1 1885.0,850.1 1887.0,850.2 1889.0,850.2 1891.0,850.3 1893.0,850.3 1895.0,850.4 1897.0,850.5 1899.0,850.5 1901.0,850.6 1903.0,850.6 1905.0,850.7 1907.0,850.7 1909.0,850.8 1911.0,850.8 1913.0,850.9 1915.0,850.9 1917.0,851.0 1919.0,851.0 1921.0,851.1 1923.0,851.1 1925.0,851.2 1927.0,851.2 1929.0,851.3 1931.0,851.3 1933.0,851.4 1935.0,851.4 1937.0,851.5 1939.0,851.5 1941.0,851.5 1943.0,851.6 1945.0,851.6 1947.0,851.7 1949.0,851.7 1951.0,851.7 1953.0,851.8 1955.0,851.8 1957.0,851.9 1959.0,851.9 1961.0,851.9 1963.0,852.0 1965.0,852.0 1967.0,852.1 1969.0,852.1 1971.0,852.1 1973.0,852.2 1975.0,852.2 1977.0,852.2 1979.0,852.3 1981.0,852.3 1983.0,852.3 1985.0,852.4 1987.0,852.4 1989.0,852.4 1991.0,852.5 1993.0,852.5 1995.0,852.5 1997.0,852.6 1999.0,852.6 2001.0,852.6 2003.0,852.7 2005.0,852.7 2007.0,852.7 2009.0,852.7 2011.0,852.8 2013.0,852.8 2015.0,852.8 2017.0,852.9 2019.0,852.9 2021.0,852.9 2023.0,852.9 2025.0,853.0 2027.0,853.0 2029.0,853.0 2031.0,853.0 2033.0,853.1 2035.0,853.1 2037.0,853.1 2039.0,853.1 2041.0,853.2 2043.0,853.2 2045.0,853.2 2047.0,853.2 2049.0,853.2 2051.0,853.3 2053.0,853.3 2055.0,853.3 2057.0,853.3 2059.0,853.3 2061.0,853.4 2063.0,853.4 2065.0,853.4 2067.0,853.4 2069.0,853.4 2071.0,853.5 2073.0,853.5 2075.0,853.5 2077.0,853.5 2079.0,853.5 2081.0,853.6 2083.0,853.6 2085.0,853.6 2087.0,853.6 2089.0,853.6 2091.0,853.6 2093.0,853.7 2095.0,853.7 2097.0,853.7 2099.0,853.7 2101.0,853.7 2103.0,853.7 2105.0,853.7 2107.0,853.8 2109.0,853.8 2111.0,853.8 2113.0,853.8 2115.0,853.8 2117.0,853.8 2119.0,853.8 2121.0,853.9 2123.0,853.9 2125.0,853.9 2127.0,853.9 2129.0,853.9 2131.0,853.9 2133.0,853.9 2135.0,853.9 2137.0,854.0 2139.0,854.0 2141.0,854.0 2143.0,854.0 2145.0,854.0 2147.0,854.0 2149.0,854.0 2151.0,854.0 2153.0,854.0 2155.0,854.1 2157.0,854.1 2159.0,854.1 2161.0,854.1 2163.0,854.1 2165.0,854.1 2167.0,854.1 2169.0,854.1 2171.0,854.1 2173.0,854.1 2175.0,854.2 2177.0,854.2 2179.0,854.2 2181.0,854.2 2183.0,854.2 2185.0,854.2 2187.0,854.2 2189.0,854.2 2191.0,854.2 2193.0,854.2 2195.0,854.2 2197.0,854.3 2199.0,854.3 2201.0,854.3 2203.0,854.3 2205.0,854.3 2207.0,854.3 2209.0,854.3 2211.0,854.3 2213.0,854.3 2215.0,854.3 2217.0,854.3 2219.0,854.4 2221.0,854.4 2223.0,854.4 2225.0,854.4 2227.0,854.4 2229.0,854.4 2231.0,854.4 2233.0,854.4 2235.0,854.4 2237.0,854.4 2239.0,854.4 2241.0,854.5 2243.0,854.5 2245.0,854.5 2247.0,854.5 2249.0,854.5 2251.0,854.5 2253.0,854.5 2255.0,854.5 2257.0,854.5 2259.0,854.5 2261.0,854.5 2263.0,854.6 2265.0,854.6 2267.0,854.6 2269.0,854.6 2271.0,854.6 2273.0,854.6 2275.0,854.6 2277.0,854.6 2279.0,854.6 2281.0,854.6 2283.0,854.7 2285.0,854.7 2287.0,854.7 2289.0,854.7 2291.0,854.7 2293.0,854.7 2295.0,854.7 2297.0,854.7 2299.0,854.7 2301.0,854.8 2303.0,854.8 2305.0,854.8 2307.0,854.8 2309.0,854.8 2311.0,854.8 2313.0,854.8 2315.0,854.8 2317.0,854.9 2319.0,854.9 2321.0,854.9 2323.0,854.9 2325.0,854.9 2327.0,854.9 2329.0,854.9 2331.0,855.0 2333.0,855.0 2335.0,855.0 2337.0,855.0 2339.0,855.0 2341.0,855.0 2343.0,855.1 2345.0,855.1 2347.0,855.1 2349.0,855.1 2351.0,855.1 2353.0,855.1 2355.0,855.2 2357.0,855.2 2359.0,855.2 2361.0,855.2 2363.0,855.2 2365.0,855.2 2367.0,855.3 2369.0,855.3 2371.0,855.3 2373.0,855.3 2375.0,855.3 2377.0,855.4 2379.0,855.4 2380.0,855.4"/>
<path stroke="#0000ff" d="M217.8,139.3 L218.8,141.4 219.8,143.6 220.8,146.1 221.6,148.0 222.3,150.1 223.1,152.2 223.8,154.5 224.6,156.8 225.3,159.3 226.1,161.8 226.8,164.4 227.6,167.1 228.3,169.9 229.1,172.7 229.8,175.6 230.3,177.6 230.8,179.6 231.3,181.6 231.8,183.7 232.3,185.7 232.8,187.8 233.3,190.0 233.8,192.1 234.3,194.3 234.8,196.5 235.3,198.7 235.8,201.0 236.3,203.2 236.8,205.5 237.3,207.8 237.8,210.1 238.3,212.4 238.8,214.7 239.3,217.1 239.8,219.4 240.3,221.8 240.8,224.1 241.3,226.5 241.8,228.9 242.3,231.3 242.8,233.7 243.3,236.1 243.8,238.5 244.3,240.9 244.8,243.4 245.3,245.8 245.8,248.2 246.3,250.6 246.8,253.0 247.3,255.4 247.8,257.8 248.3,260.2 248.8,262.6 249.3,265.0 249.8,267.4 250.3,269.7 250.8,272.1 251.3,274.4 251.8,276.8 252.3,279.1 252.8,281.4 253.3,283.7 253.8,286.0 254.3,288.2 254.8,290.5 255.3,292.7 255.8,294.9 256.3,297.1 256.8,299.3 257.3,301.4 257.8,303.5 258.3,305.6 258.8,307.7 259.3,309.7 259.8,311.7 260.3,313.7 260.8,315.7 261.6,318.6 262.3,321.4 263.1,324.1 263.8,326.8 264.6,329.3 265.3,331.8 266.1,334.2 266.8,336.5 267.6,338.8 268.3,340.9 269.1,342.9 269.8,344.8 270.8,347.3 271.8,349.6 272.8,351.7 273.8,353.6 274.8,355.4 276.1,357.5 277.3,359.3 278.6,361.0 280.1,362.6 281.6,364.0 283.3,365.3 285.3,366.2 287.3,366.8 289.3,366.9 291.3,366.7 293.3,366.0 295.3,365.1 297.1,364.0 298.8,362.7 300.6,361.2 302.1,359.8 303.6,358.3 305.1,356.6 306.6,354.9 308.1,353.1 309.6,351.2 310.8,349.6 312.1,348.1 313.3,346.5 314.6,344.9 315.8,343.3 317.3,341.5 318.8,339.7 320.3,338.0 321.8,336.4 323.3,334.9 324.8,333.5 326.6,332.1 328.3,330.9 330.3,329.8 332.3,329.1 334.3,328.8 336.3,328.8 338.3,329.2 340.3,330.1 342.1,331.3 343.8,332.8 345.3,334.4 346.6,336.0 347.8,337.8 349.1,339.8 350.3,342.0 351.3,343.8 352.3,345.8 353.3,347.8 354.3,349.9 355.3,352.1 356.3,354.4 357.3,356.7 358.3,359.1 359.3,361.5 360.3,363.9 361.3,366.4 362.1,368.2 362.8,370.1 363.6,372.0 364.3,373.8 365.1,375.7 365.8,377.6 366.6,379.5 367.3,381.4 368.1,383.3 368.8,385.3 369.6,387.2 370.3,389.1 371.1,391.0 371.8,392.9 372.6,394.9 373.3,396.8 374.1,398.7 374.8,400.6 375.6,402.6 376.3,404.5 377.1,406.4 377.8,408.3 378.6,410.2 379.3,412.2 380.1,414.1 380.8,416.0 381.6,417.9 382.3,419.8 383.1,421.6 383.8,423.5 384.6,425.4 385.3,427.2 386.3,429.7 387.3,432.1 388.3,434.6 389.3,437.0 390.3,439.3 391.3,441.7 392.3,444.0 393.3,446.3 394.3,448.6 395.3,450.9 396.3,453.1 397.3,455.3 398.3,457.4 399.3,459.5 400.3,461.6 401.3,463.7 402.3,465.7 403.3,467.6 404.3,469.5 405.3,471.4 406.3,473.3 407.3,475.0 408.3,476.8 409.6,478.9 410.8,481.0 412.1,483.1 413.3,485.0 414.6,487.0 415.8,488.9 417.1,490.8 418.3,492.6 419.6,494.4 420.8,496.2 422.1,498.0 423.3,499.7 424.6,501.4 425.8,503.2 427.1,504.9 428.3,506.6 429.6,508.3 430.8,510.0 432.1,511.8 433.3,513.5 434.6,515.3 435.8,517.1 437.1,518.9 438.3,520.7 439.6,522.6 440.8,524.5 442.1,526.4 443.3,528.4 444.6,530.5 445.8,532.6 447.1,534.7 448.1,536.4 449.1,538.2 450.1,540.0 451.1,541.8 452.1,543.6 453.1,545.4 454.1,547.3 455.1,549.2 456.1,551.1 457.1,553.0 458.1,555.0 459.1,556.9 460.1,558.9 461.1,560.8 462.1,562.8 463.1,564.8 464.1,566.8 465.1,568.8 466.1,570.8 467.1,572.8 468.1,574.8 469.1,576.8 470.1,578.8 471.1,580.8 472.1,582.8 473.1,584.8 474.1,586.8 475.1,588.8 476.1,590.8 477.1,592.8 478.1,594.7 479.1,596.7 480.1,598.6 481.1,600.5 482.1,602.4 483.1,604.3 484.1,606.1 485.1,608.0 486.1,609.8 487.1,611.6 488.1,613.4 489.1,615.1 490.3,617.3 491.6,619.4 492.8,621.5 494.1,623.5 495.3,625.5 496.6,627.4 497.8,629.3 499.1,631.1 500.3,633.0 501.6,634.7 502.8,636.4 504.1,638.1 505.3,639.7 506.6,641.3 508.1,643.1 509.6,644.9 511.1,646.5 512.5,648.2 514.0,649.7 515.5,651.2 517.0,652.6 518.5,653.9 520.3,655.4 522.0,656.8 523.8,658.0 525.5,659.2 527.3,660.3 529.3,661.4 531.3,662.3 533.3,663.2 535.3,663.9 537.3,664.4 539.3,664.8 541.3,665.1 543.3,665.2 545.3,665.2 547.3,665.0 549.3,664.7 551.3,664.3 553.3,663.8 555.3,663.1 557.3,662.3 559.3,661.4 561.3,660.4 563.3,659.4 565.0,658.3 566.8,657.2 568.5,656.1 570.3,654.8 572.0,653.5 573.8,652.2 575.5,650.8 577.3,649.4 579.0,647.9 580.8,646.4 582.3,645.0 583.8,643.6 585.3,642.2 586.8,640.8 588.3,639.4 589.8,637.9 591.3,636.5 592.8,635.0 594.3,633.5 595.8,632.0 597.3,630.4 598.8,628.9 600.3,627.4 601.8,625.9 603.3,624.3 604.8,622.8 606.3,621.3 607.8,619.8 609.3,618.3 610.8,616.8 612.3,615.3 613.8,613.8 615.3,612.3 616.8,610.9 618.3,609.5 619.8,608.1 621.3,606.7 622.8,605.3 624.3,604.0 626.0,602.5 627.8,600.9 629.5,599.5 631.3,598.0 633.0,596.6 634.8,595.2 636.5,593.9 638.3,592.5 640.0,591.3 641.8,590.0 643.5,588.8 645.3,587.6 647.0,586.5 648.8,585.4 650.5,584.4 652.3,583.4 654.3,582.3 656.3,581.3 658.3,580.3 660.3,579.4 662.3,578.5 664.3,577.7 666.3,577.0 668.3,576.4 670.3,575.8 672.3,575.2 674.3,574.8 676.3,574.3 678.3,573.9 680.3,573.5 682.3,573.0 684.3,572.5 686.3,572.0 688.3,571.5 690.3,570.8 692.3,570.1 694.3,569.3 696.3,568.4 698.3,567.4 700.3,566.4 702.3,565.8 704.3,565.7 706.3,566.6 708.0,568.0 709.5,569.5 711.0,570.9 712.8,572.1 714.8,572.6 716.8,572.5 718.8,571.9 720.8,571.0 722.8,570.1 724.8,569.2 726.8,568.3 728.8,567.4 730.8,566.5 732.8,565.7 734.8,564.8 736.8,563.9 738.8,563.1 740.8,562.2 742.8,561.3 744.8,560.4 746.8,559.4 748.8,558.5 750.8,557.4 752.8,556.4 754.5,555.4 756.3,554.4 758.0,553.3 759.8,552.2 761.5,551.1 763.3,549.9 765.0,548.6 766.8,547.3 768.5,545.9 770.3,544.4 772.0,542.8 773.5,541.4 775.0,540.0 776.5,538.5 778.0,537.0 779.5,535.4 781.0,533.7 782.5,532.1 784.0,530.4 785.5,528.7 787.0,526.9 788.5,525.1 790.0,523.4 791.5,521.6 793.0,519.8 794.5,517.9 796.0,516.1 797.5,514.3 799.0,512.5 800.5,510.8 802.0,509.0 803.5,507.3 805.0,505.6 806.5,503.9 808.0,502.2 809.5,500.6 811.0,499.0 812.5,497.5 814.0,496.0 815.5,494.6 817.0,493.1 818.5,491.8 820.3,490.2 822.0,488.8 823.8,487.3 825.5,486.0 827.3,484.7 829.0,483.4 830.8,482.3 832.5,481.1 834.3,480.1 836.0,479.1 838.0,478.1 840.0,477.1 842.0,476.2 844.0,475.4 846.0,474.7 848.0,474.1 850.0,473.5 852.0,473.1 854.0,472.7 856.0,472.4 858.0,472.1 860.0,472.0 862.0,471.9 864.0,471.8 866.0,471.8 868.0,471.9 870.0,472.0 872.0,472.2 874.0,472.4 876.0,472.7 878.0,473.0 880.0,473.3 882.0,473.7 884.0,474.1 886.0,474.5 888.0,475.0 890.0,475.7 892.0,476.5 894.0,477.6 895.8,478.7 897.5,480.0 899.0,481.3 900.5,482.9 902.0,484.5 903.5,486.2 905.0,487.7 906.8,489.0 908.8,489.7 910.8,490.0 912.8,490.1 914.8,490.7 916.8,491.7 918.5,492.9 920.3,494.2 922.0,495.5 923.8,496.7 925.5,497.7 927.5,498.7 929.5,499.4 931.5,500.0 933.5,500.4 935.5,500.7 937.5,500.9 939.5,501.0 941.5,501.0 943.5,500.9 945.5,500.9 947.5,500.8 949.5,500.8 951.5,500.8 953.5,500.9 955.5,501.0 957.5,501.2 959.5,501.5 961.5,501.7 963.5,502.1 965.5,502.5 967.5,502.9 969.5,503.3 971.5,503.8 973.5,504.4 975.5,505.0 977.5,505.6 979.5,506.2 981.5,506.9 983.5,507.6 985.5,508.3 987.5,509.1 989.5,509.9 991.5,510.7 993.5,511.5 995.5,512.3 997.5,513.2 999.5,514.1 1001.5,514.9 1003.5,515.8 1005.5,516.7 1007.5,517.6 1009.5,518.5 1011.5,519.4 1013.5,520.3 1015.5,521.2 1017.5,522.1 1019.5,523.0 1021.5,523.9 1023.5,524.8 1025.5,525.6 1027.5,526.5 1029.5,527.3 1031.5,528.1 1033.5,528.9 1035.5,529.7 1037.5,530.5 1039.5,531.2 1041.5,531.9 1043.5,532.6 1045.5,533.3 1047.5,533.9 1049.5,534.5 1051.5,535.1 1053.5,535.7 1055.5,536.2 1057.5,536.7 1059.5,537.1 1061.5,537.6 1063.5,537.9 1065.5,538.3 1067.5,538.6 1069.5,538.9 1071.5,539.1 1073.5,539.3 1075.5,539.5 1077.5,539.6 1079.5,539.6 1081.5,539.6 1083.5,539.6 1085.5,539.5 1087.5,539.4 1089.5,539.2 1091.5,538.9 1093.5,538.6 1095.5,538.3 1097.5,537.9 1099.5,537.4 1101.5,536.9 1103.5,536.3 1105.5,535.7 1107.5,535.0 1109.5,534.2 1111.5,533.4 1113.5,532.5 1115.5,531.5 1117.5,530.5 1119.5,529.4 1121.3,528.3 1123.0,527.3 1124.8,526.1 1126.5,524.9 1128.3,523.7 1130.0,522.4 1131.8,521.0 1133.5,519.6 1135.3,518.1 1136.8,516.8 1138.3,515.4 1139.8,514.0 1141.3,512.5 1142.8,511.0 1144.3,509.5 1145.8,507.9 1147.3,506.2 1148.8,504.5 1150.3,502.8 1151.8,501.0 1153.3,499.2 1154.8,497.4 1156.0,495.8 1157.3,494.2 1158.5,492.6 1159.8,490.9 1161.0,489.2 1162.3,487.5 1163.5,485.8 1164.8,484.1 1166.0,482.3 1167.3,480.5 1168.5,478.7 1169.8,476.9 1171.0,475.0 1172.3,473.2 1173.5,471.3 1174.8,469.4 1176.0,467.5 1177.3,465.5 1178.5,463.6 1179.8,461.6 1181.0,459.6 1182.3,457.6 1183.5,455.6 1184.8,453.6 1186.0,451.5 1187.3,449.5 1188.5,447.4 1189.8,445.3 1191.0,443.2 1192.3,441.1 1193.5,439.0 1194.8,436.9 1196.0,434.8 1197.3,432.6 1198.5,430.5 1199.8,428.3 1201.0,426.2 1202.3,424.0 1203.3,422.3 1204.3,420.6 1205.3,418.8 1206.3,417.1 1207.3,415.3 1208.3,413.6 1209.3,411.8 1210.3,410.1 1211.3,408.3 1212.3,406.6 1213.3,404.8 1214.3,403.0 1215.3,401.3 1216.3,399.5 1217.3,397.7 1218.3,396.0 1219.3,394.2 1220.3,392.5 1221.3,390.7 1222.3,388.9 1223.3,387.2 1224.3,385.4 1225.3,383.7 1226.3,381.9 1227.3,380.2 1228.3,378.4 1229.3,376.7 1230.3,374.9 1231.3,373.2 1232.3,371.4 1233.3,369.7 1234.5,367.6 1235.8,365.4 1237.0,363.3 1238.3,361.1 1239.5,359.0 1240.8,356.9 1242.0,354.7 1243.3,352.6 1244.5,350.5 1245.8,348.5 1247.0,346.4 1248.3,344.3 1249.5,342.3 1250.8,340.2 1252.0,338.2 1253.3,336.2 1254.5,334.2 1255.8,332.2 1257.0,330.2 1258.3,328.3 1259.5,326.3 1260.8,324.4 1262.0,322.5 1263.3,320.6 1264.5,318.7 1265.8,316.8 1267.0,314.9 1268.3,313.1 1269.5,311.2 1270.8,309.4 1272.0,307.6 1273.3,305.8 1274.5,304.0 1275.8,302.2 1277.0,300.4 1278.3,298.7 1279.5,296.9 1280.8,295.2 1282.0,293.4 1283.3,291.7 1284.5,290.0 1285.8,288.3 1287.0,286.7 1288.3,285.0 1289.5,283.4 1290.8,281.7 1292.0,280.1 1293.3,278.5 1294.5,276.9 1295.8,275.3 1297.0,273.7 1298.3,272.1 1299.8,270.2 1301.3,268.4 1302.8,266.5 1304.3,264.7 1305.8,262.9 1307.3,261.1 1308.8,259.3 1310.3,257.6 1311.8,255.8 1313.3,254.1 1314.8,252.4 1316.3,250.7 1317.8,249.0 1319.3,247.4 1320.8,245.7 1322.3,244.1 1323.8,242.4 1325.3,240.8 1326.8,239.2 1328.3,237.7 1329.8,236.1 1331.3,234.6 1332.8,233.1 1334.3,231.6 1335.8,230.1 1337.3,228.6 1338.8,227.2 1340.3,225.8 1341.8,224.4 1343.3,223.0 1344.8,221.7 1346.5,220.2 1348.3,218.7 1350.0,217.2 1351.8,215.8 1353.5,214.4 1355.3,213.0 1357.0,211.7 1358.8,210.4 1360.5,209.2 1362.3,208.0 1364.0,206.8 1365.8,205.7 1367.5,204.6 1369.3,203.6 1371.0,202.6 1373.0,201.5 1375.0,200.5 1377.0,199.6 1379.0,198.7 1381.0,197.9 1383.0,197.2 1385.0,196.5 1387.0,195.9 1389.0,195.3 1391.0,194.9 1393.0,194.5 1395.0,194.2 1397.0,193.9 1399.0,193.8 1401.0,193.7 1403.0,193.7 1405.0,193.7 1407.0,193.9 1409.0,194.0 1411.0,194.3 1413.0,194.6 1415.0,195.0 1417.0,195.5 1419.0,196.0 1421.0,196.6 1423.0,197.2 1425.0,198.0 1427.0,198.7 1429.0,199.6 1431.0,200.4 1433.0,201.4 1435.0,202.4 1437.0,203.4 1438.8,204.4 1440.5,205.4 1442.3,206.5 1444.0,207.6 1445.8,208.7 1447.5,209.9 1449.3,211.1 1451.0,212.3 1452.8,213.6 1454.5,214.9 1456.3,216.2 1458.0,217.6 1459.8,219.0 1461.5,220.5 1463.3,222.0 1465.0,223.5 1466.5,224.8 1468.0,226.2 1469.5,227.5 1471.0,228.9 1472.5,230.4 1474.0,231.8 1475.5,233.3 1477.0,234.8 1478.5,236.3 1480.0,237.8 1481.5,239.4 1483.0,241.0 1484.5,242.6 1486.0,244.2 1487.5,245.9 1489.0,247.5 1490.5,249.2 1492.0,251.0 1493.5,252.7 1495.0,254.5 1496.5,256.2 1498.0,258.1 1499.5,259.9 1501.0,261.7 1502.5,263.6 1503.8,265.2 1505.0,266.8 1506.3,268.4 1507.5,270.0 1508.8,271.6 1510.0,273.3 1511.3,274.9 1512.5,276.6 1513.8,278.3 1515.0,280.0 1516.3,281.7 1517.5,283.4 1518.8,285.2 1520.0,286.9 1521.3,288.7 1522.5,290.5 1523.8,292.3 1525.0,294.1 1526.3,295.9 1527.5,297.7 1528.8,299.6 1530.0,301.5 1531.3,303.4 1532.5,305.3 1533.8,307.2 1535.0,309.2 1536.3,311.1 1537.5,313.1 1538.8,315.1 1540.0,317.2 1541.3,319.2 1542.5,321.3 1543.8,323.4 1545.0,325.5 1546.3,327.6 1547.5,329.8 1548.5,331.6 1549.5,333.3 1550.5,335.1 1551.5,336.9 1552.5,338.7 1553.5,340.5 1554.5,342.4 1555.5,344.3 1556.5,346.1 1557.5,348.1 1558.5,350.0 1559.5,351.9 1560.5,353.9 1561.5,355.8 1562.5,357.8 1563.5,359.9 1564.5,361.9 1565.5,363.9 1566.5,366.0 1567.5,368.1 1568.5,370.2 1569.5,372.4 1570.5,374.5 1571.5,376.7 1572.5,378.9 1573.5,381.1 1574.5,383.4 1575.5,385.6 1576.5,387.9 1577.5,390.2 1578.5,392.5 1579.5,394.9 1580.5,397.3 1581.5,399.6 1582.5,402.1 1583.5,404.5 1584.5,407.0 1585.3,408.8 1586.0,410.7 1586.8,412.6 1587.5,414.5 1588.3,416.4 1589.0,418.3 1589.8,420.2 1590.5,422.2 1591.3,424.1 1592.0,426.1 1592.8,428.1 1593.5,430.1 1594.3,432.1 1595.0,434.1 1595.8,436.1 1596.5,438.2 1597.3,440.3 1598.0,442.3 1598.8,444.4 1599.5,446.5 1600.3,448.6 1601.0,450.8 1601.8,452.9 1602.5,455.0 1603.3,457.2 1604.0,459.4 1604.8,461.6 1605.5,463.8 1606.3,466.0 1607.0,468.2 1607.8,470.5 1608.5,472.7 1609.3,475.0 1610.0,477.3 1610.8,479.6 1611.5,481.9 1612.3,484.2 1613.0,486.6 1613.8,488.9 1614.5,491.3 1615.3,493.7 1616.0,496.1 1616.8,498.5 1617.5,500.9 1618.3,503.3 1619.0,505.7 1619.8,508.1 1620.5,510.6 1621.3,513.1 1622.0,515.5 1622.8,518.0 1623.5,520.5 1624.3,522.9 1625.0,525.4 1625.8,527.9 1626.5,530.4 1627.3,532.9 1628.0,535.4 1628.8,537.9 1629.5,540.4 1630.3,542.9 1631.0,545.4 1631.8,547.9 1632.5,550.4 1633.3,552.8 1634.0,555.3 1634.8,557.8 1635.5,560.3 1636.3,562.8 1637.0,565.3 1637.8,567.7 1638.5,570.2 1639.3,572.6 1640.0,575.1 1640.8,577.5 1641.5,580.0 1642.3,582.4 1643.0,584.8 1643.8,587.2 1644.5,589.6 1645.3,592.0 1646.0,594.4 1646.8,596.8 1647.5,599.1 1648.3,601.5 1649.0,603.8 1649.8,606.2 1650.5,608.5 1651.3,610.8 1652.0,613.1 1652.8,615.4 1653.5,617.7 1654.3,620.0 1655.0,622.3 1655.8,624.5 1656.5,626.8 1657.3,629.0 1658.0,631.3 1658.8,633.5 1659.5,635.7 1660.3,637.9 1661.0,640.1 1661.8,642.3 1662.5,644.5 1663.3,646.7 1664.0,648.8 1664.8,651.0 1665.5,653.1 1666.3,655.2 1667.0,657.3 1667.8,659.4 1668.5,661.5 1669.3,663.6 1670.0,665.7 1670.8,667.7 1671.5,669.8 1672.3,671.8 1673.0,673.8 1673.8,675.8 1674.5,677.8 1675.3,679.8 1676.0,681.8 1676.8,683.8 1677.5,685.7 1678.3,687.7 1679.0,689.6 1679.8,691.5 1680.5,693.4 1681.3,695.3 1682.0,697.2 1682.8,699.1 1683.5,700.9 1684.5,703.4 1685.5,705.8 1686.5,708.3 1687.5,710.6 1688.5,713.0 1689.5,715.4 1690.5,717.7 1691.5,720.0 1692.5,722.3 1693.5,724.5 1694.5,726.7 1695.5,728.9 1696.5,731.1 1697.5,733.3 1698.5,735.4 1699.5,737.5 1700.5,739.6 1701.5,741.6 1702.5,743.7 1703.5,745.7 1704.5,747.6 1705.5,749.6 1706.5,751.5 1707.5,753.4 1708.5,755.3 1709.5,757.1 1710.5,758.9 1711.5,760.7 1712.5,762.5 1713.5,764.2 1714.8,766.4 1716.0,768.5 1717.3,770.5 1718.5,772.5 1719.8,774.5 1721.0,776.4 1722.3,778.2 1723.5,780.0 1724.8,781.8 1726.0,783.6 1727.3,785.2 1728.5,786.9 1729.8,788.5 1731.0,790.1 1732.5,791.9 1734.0,793.7 1735.5,795.4 1737.0,797.1 1738.5,798.7 1740.0,800.3 1741.5,801.8 1743.0,803.3 1744.5,804.7 1746.0,806.1 1747.5,807.4 1749.3,808.9 1751.0,810.4 1752.8,811.8 1754.5,813.1 1756.3,814.4 1758.0,815.7 1759.8,816.9 1761.5,818.0 1763.3,819.1 1765.0,820.2 1766.8,821.3 1768.5,822.3 1770.3,823.3 1772.3,824.3 1774.3,825.4 1776.3,826.4 1778.3,827.3 1780.3,828.3 1782.3,829.2 1784.3,830.1 1786.3,830.9 1788.3,831.8 1790.3,832.6 1792.3,833.4 1794.3,834.2 1796.3,835.0 1798.3,835.7 1800.3,836.5 1802.3,837.2 1804.3,837.9 1806.3,838.6 1808.3,839.2 1810.3,839.9 1812.3,840.5 1814.3,841.1 1816.3,841.7 1818.3,842.3 1820.3,842.9 1822.3,843.4 1824.3,843.9 1826.3,844.5 1828.3,845.0 1830.3,845.5 1832.3,846.0 1834.3,846.4 1836.3,846.9 1838.3,847.3 1840.3,847.8 1842.3,848.2 1844.3,848.6 1846.3,849.0 1848.3,849.4 1850.3,849.7 1852.3,850.1 1854.3,850.5 1856.3,850.8 1858.3,851.2 1860.3,851.5 1862.3,851.8 1864.3,852.1 1866.3,852.4 1868.3,852.7 1870.3,853.0 1872.3,853.3 1874.3,853.6 1876.3,853.9 1878.3,854.1 1880.3,854.4 1882.3,854.7 1884.3,854.9 1886.3,855.2 1888.3,855.4 1890.3,855.7 1892.3,855.9 1894.3,856.1 1896.3,856.4 1898.3,856.6 1900.3,856.8 1902.3,857.1 1904.3,857.3 1906.3,857.5 1908.3,857.7 1910.3,857.9 1912.3,858.1 1914.3,858.3 1916.3,858.5 1918.3,858.7 1920.3,858.9 1922.3,859.1 1924.3,859.3 1926.3,859.5 1928.3,859.7 1930.3,859.9 1932.3,860.0 1934.3,860.2 1936.3,860.4 1938.3,860.6 1940.3,860.7 1942.3,860.9 1944.3,861.0 1946.3,861.2 1948.3,861.4 1950.3,861.5 1952.3,861.7 1954.3,861.8 1956.3,862.0 1958.3,862.1 1960.3,862.2 1962.3,862.4 1964.3,862.5 1966.3,862.6 1968.3,862.8 1970.3,862.9 1972.3,863.0 1974.3,863.1 1976.3,863.3 1978.3,863.4 1980.3,863.5 1982.3,863.6 1984.3,863.7 1986.3,863.8 1988.3,863.9 1990.3,864.0 1992.3,864.1 1994.3,864.2 1996.3,864.3 1998.3,864.4 2000.3,864.5 2002.3,864.6 2004.3,864.7 2006.3,864.8 2008.3,864.8 2010.3,864.9 2012.3,865.0 2014.3,865.1 2016.3,865.2 2018.3,865.2 2020.3,865.3 2022.3,865.4 2024.3,865.4 2026.3,865.5 2028.3,865.6 2030.3,865.6 2032.3,865.7 2034.3,865.7 2036.3,865.8 2038.3,865.8 2040.3,865.9 2042.3,865.9 2044.3,866.0 2046.3,866.0 2048.3,866.1 2050.3,866.1 2052.3,866.2 2054.3,866.2 2056.3,866.2 2058.3,866.3 2060.3,866.3 2062.3,866.3 2064.3,866.4 2066.3,866.4 2068.3,866.4 2070.3,866.4 2072.3,866.5 2074.3,866.5 2076.3,866.5 2078.3,866.5 2080.3,866.5 2082.3,866.6 2084.3,866.6 2086.3,866.6 2088.3,866.6 2090.3,866.6 2092.3,866.6 2094.3,866.6 2096.3,866.6 2098.3,866.7 2100.3,866.7 2102.3,866.7 2104.3,866.7 2106.3,866.7 2108.3,866.7 2110.3,866.7 2112.3,866.7 2114.3,866.7 2116.3,866.7 2118.3,866.7 2120.3,866.7 2122.3,866.6 2124.3,866.6 2126.3,866.6 2128.3,866.6 2130.3,866.6 2132.3,866.6 2134.3,866.6 2136.3,866.6 2138.3,866.6 2140.3,866.5 2142.3,866.5 2144.3,866.5 2146.3,866.5 2148.3,866.5 2150.3,866.5 2152.3,866.4 2154.3,866.4 2156.3,866.4 2158.3,866.4 2160.3,866.4 2162.3,866.3 2164.3,866.3 2166.3,866.3 2168.3,866.3 2170.3,866.2 2172.3,866.2 2174.3,866.2 2176.3,866.2 2178.3,866.1 2180.3,866.1 2182.3,866.1 2184.3,866.1 2186.3,866.0 2188.3,866.0 2190.3,866.0 2192.3,865.9 2194.3,865.9 2196.3,865.9 2198.3,865.8 2200.3,865.8 2202.3,865.8 2204.3,865.8 2206.3,865.7 2208.3,865.7 2210.3,865.7 2212.3,865.6 2214.3,865.6 2216.3,865.6 2218.3,865.5 2220.3,865.5 2222.3,865.5 2224.3,865.5 2226.3,865.4 2228.3,865.4 2230.3,865.4 2232.3,865.3 2234.3,865.3 2236.3,865.3 2238.3,865.2 2240.3,865.2 2242.3,865.2 2244.3,865.1 2246.3,865.1 2248.3,865.1 2250.3,865.1 2252.3,865.0 2254.3,865.0 2256.3,865.0 2258.3,864.9 2260.3,864.9 2262.3,864.9 2264.3,864.9 2266.3,864.8 2268.3,864.8 2270.3,864.8 2272.3,864.8 2274.3,864.7 2276.3,864.7 2278.3,864.7 2280.3,864.7 2282.3,864.7 2284.3,864.6 2286.3,864.6 2288.3,864.6 2290.3,864.6 2292.3,864.6 2294.3,864.5 2296.3,864.5 2298.3,864.5 2300.3,864.5 2302.3,864.5 2304.3,864.5 2306.3,864.4 2308.3,864.4 2310.3,864.4 2312.3,864.4 2314.3,864.4 2316.3,864.4 2318.3,864.4 2320.3,864.4 2322.3,864.4 2324.3,864.4 2326.3,864.4 2328.3,864.4 2330.3,864.4 2332.3,864.4 2334.3,864.4 2336.3,864.4 2338.3,864.4 2340.3,864.4 2342.3,864.4 2344.3,864.4 2346.3,864.4 2348.3,864.4 2350.3,864.4 2352.3,864.4 2354.3,864.4 2356.3,864.5 2358.3,864.5 2360.3,864.5 2362.3,864.5 2364.3,864.5 2366.3,864.6 2368.3,864.6 2370.3,864.6 2372.3,864.6 2374.3,864.7 2376.3,864.7 2378.3,864.7 2380.0,864.8"/>
</g>
<g fill="#000" shape-rendering="crispEdges">
<rect x="212" y="40" width="6" height="911"/>
<rect x="2379" y="40" width="6" height="911"/>
<rect x="212" y="40" width="2173" height="6"/>
<rect x="212" y="945" width="2173" height="6"/>
<rect x="248" y="921" width="6" height="24"/>
<rect x="248" y="46" width="6" height="23"/>
<rect x="429" y="935" width="6" height="10"/>
<rect x="429" y="46" width="6" height="9"/>
<rect x="609" y="921" width="6" height="24"/>
<rect x="609" y="46" width="6" height="23"/>
<rect x="790" y="935" width="6" height="10"/>
<rect x="790" y="46" width="6" height="9"/>
<rect x="970" y="921" width="6" height="24"/>
<rect x="970" y="46" width="6" height="23"/>
<rect x="1151" y="935" width="6" height="10"/>
<rect x="1151" y="46" width="6" height="9"/>
<rect x="1332" y="921" width="6" height="24"/>
<rect x="1332" y="46" width="6" height="23"/>
<rect x="1512" y="935" width="6" height="10"/>
<rect x="1512" y="46" width="6" height="9"/>
<rect x="1693" y="921" width="6" height="24"/>
<rect x="1693" y="46" width="6" height="23"/>
<rect x="1873" y="935" width="6" height="10"/>
<rect x="1873" y="46" width="6" height="9"/>
<rect x="2054" y="921" width="6" height="24"/>
<rect x="2054" y="46" width="6" height="23"/>
<rect x="2235" y="935" width="6" height="10"/>
<rect x="2235" y="46" width="6" height="9"/>
<rect x="218" y="926" width="10" height="6"/>
<rect x="2368" y="926" width="11" height="6"/>
<rect x="218" y="863" width="24" height="6"/>
<rect x="2355" y="863" width="24" height="6"/>
<rect x="218" y="800" width="10" height="6"/>
<rect x="2368" y="800" width="11" height="6"/>
<rect x="218" y="736" width="24" height="6"/>
<rect x="2355" y="736" width="24" height="6"/>
<rect x="218" y="673" width="10" height="6"/>
<rect x="2368" y="673" width="11" height="6"/>
<rect x="218" y="610" width="24" height="6"/>
<rect x="2355" y="610" width="24" height="6"/>
<rect x="218" y="546" width="10" height="6"/>
<rect x="2368" y="546" width="11" height="6"/>
<rect x="218" y="483" width="24" height="6"/>
<rect x="2355" y="483" width="24" height="6"/>
<rect x="218" y="420" width="10" height="6"/>
<rect x="2368" y="420" width="11" height="6"/>
<rect x="218" y="356" width="24" height="6"/>
<rect x="2355" y="356" width="24" height="6"/>
<rect x="218" y="293" width="10" height="6"/>
<rect x="2368" y="293" width="11" height="6"/>
<rect x="218" y="230" width="24" height="6"/>
<rect x="2355" y="230" width="24" height="6"/>
<rect x="218" y="166" width="10" height="6"/>
<rect x="2368" y="166" width="11" height="6"/>
<rect x="218" y="103" width="24" height="6"/>
<rect x="2355" y="103" width="24" height="6"/>
</g>
<g font-family="'Liberation Serif', serif" font-size="63" fill="#000">
<text transform="translate(251.0,1023.8) scale(0.952,1)" text-anchor="middle">200</text>
<text transform="translate(612.2,1023.8) scale(0.952,1)" text-anchor="middle">300</text>
<text transform="translate(973.4,1023.8) scale(0.952,1)" text-anchor="middle">400</text>
<text transform="translate(1334.6,1023.8) scale(0.952,1)" text-anchor="middle">500</text>
<text transform="translate(1695.8,1023.8) scale(0.952,1)" text-anchor="middle">600</text>
<text transform="translate(2057.0,1023.8) scale(0.952,1)" text-anchor="middle">700</text>
<text transform="translate(187.5,882.6) scale(0.952,1)" text-anchor="end">0</text>
<text transform="translate(187.5,755.9) scale(0.952,1)" text-anchor="end">2</text>
<text transform="translate(187.5,629.3) scale(0.952,1)" text-anchor="end">4</text>
<text transform="translate(187.5,502.6) scale(0.952,1)" text-anchor="end">6</text>
<text transform="translate(187.5,376.0) scale(0.952,1)" text-anchor="end">8</text>
<text transform="translate(187.5,249.3) scale(0.952,1)" text-anchor="end">10</text>
<text transform="translate(187.5,122.6) scale(0.952,1)" text-anchor="end">12</text>
</g>
<text x="1024" y="1137" font-family="'Liberation Sans', sans-serif" font-size="66" fill="#000">Wavelength <tspan font-family="'Liberation Serif', serif" font-style="italic">&#955;</tspan> (nm)</text>
<g fill="#000">
<text transform="translate(86.3,971.6) rotate(-90)" font-family="'Liberation Sans', sans-serif" font-size="65.6">Absorption coefficient</text>
<text transform="translate(86.2,329.2) rotate(-90) scale(1.180,1)" font-family="'Liberation Serif', serif" font-size="66" font-style="italic">&#945;</text>
<text transform="translate(86.3,278.6) rotate(-90)" font-family="'Liberation Sans', sans-serif" font-size="66">(</text>
<text transform="translate(86.3,259.5) rotate(-90)" font-family="'Liberation Sans', sans-serif" font-size="66">1</text>
<text transform="translate(86.3,220.3) rotate(-90)" font-family="'Liberation Sans', sans-serif" font-size="66">0</text>
<text transform="translate(57.3,185.6) rotate(-90)" font-family="'Liberation Sans', sans-serif" font-size="46">6</text>
<text transform="translate(86.5,142.5) rotate(-90)" font-family="'Liberation Sans', sans-serif" font-size="66">m</text>
<text transform="translate(61.3,90.3) rotate(-90)" font-family="'Liberation Sans', sans-serif" font-size="46">&#8722;</text>
<text transform="translate(57.3,69.0) rotate(-90)" font-family="'Liberation Sans', sans-serif" font-size="46">1</text>
<text transform="translate(86.3,40.6) rotate(-90)" font-family="'Liberation Sans', sans-serif" font-size="66">)</text>
</g>
<g font-family="'Liberation Sans', sans-serif" font-weight="bold" font-size="50" letter-spacing="-0.8" fill="#000">
<line x1="1895.5" y1="247.5" x2="2000.5" y2="247.5" stroke="#00ff00" stroke-width="7" stroke-linecap="round"/>
<text transform="translate(2013.2,263.7) scale(0.93,1)">CP1-a</text>
<line x1="1895.5" y1="305.2" x2="2000.5" y2="305.2" stroke="#ff0000" stroke-width="7" stroke-linecap="round"/>
<text transform="translate(2013.2,321.4) scale(0.93,1)">CP1-b</text>
<line x1="1895.5" y1="363.0" x2="2000.5" y2="363.0" stroke="#ff00ff" stroke-width="7" stroke-linecap="round"/>
<text transform="translate(2013.2,379.2) scale(0.93,1)">CP1-c</text>
<line x1="1895.5" y1="420.7" x2="2000.5" y2="420.7" stroke="#0000ff" stroke-width="7" stroke-linecap="round"/>
<text transform="translate(2013.2,436.9) scale(0.93,1)">CP2</text>
</g></svg>
</body></html>
